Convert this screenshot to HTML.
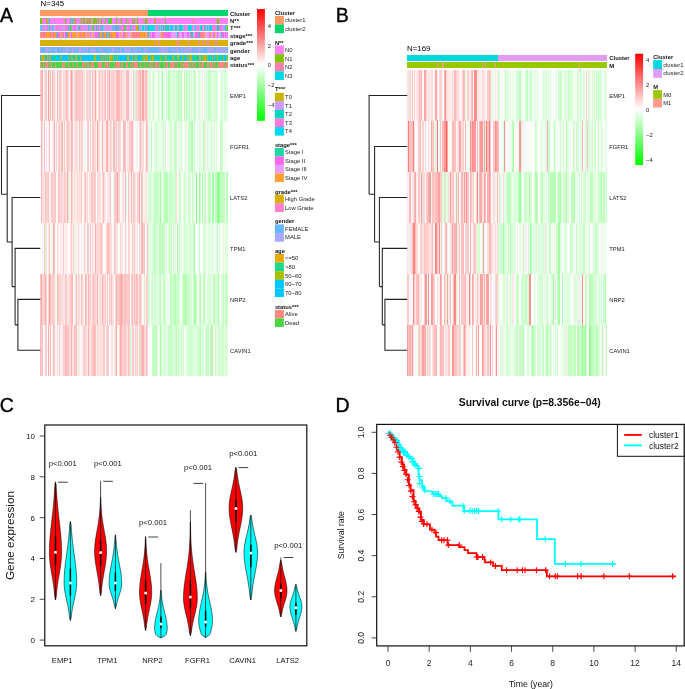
<!DOCTYPE html>
<html><head><meta charset="utf-8"><style>
html,body{margin:0;padding:0;background:#fff}
#w{position:relative;width:685px;height:689px;overflow:hidden;background:#fff}
svg{position:absolute;left:0;top:0;will-change:transform}
text{font-family:"Liberation Sans",sans-serif}
</style></head><body><div id="w">
<div style="position:absolute;left:40.3px;top:70px;width:187.7px;height:50.97px;background:linear-gradient(90deg,#ffc8c8 0 0.29%,#f8fff8 0 0.58%,#ffc0c0 0 0.87%,#ffa0a0 0 1.16%,#ffa8a8 0 1.45%,#ffe0e0 0 1.74%,#ffffff 0 2.03%,#ffd8d8 0 2.32%,#ffe0e0 0 2.61%,#ffd0d0 0 3.19%,#ffc8c8 0 3.48%,#fff8f8 0 4.06%,#ffc8c8 0 4.35%,#ffa0a0 0 4.64%,#ffb8b8 0 4.93%,#ffe0e0 0 5.22%,#fff0f0 0 5.51%,#ffc0c0 0 5.8%,#e8ffe8 0 6.09%,#d8ffd8 0 6.38%,#ffb8b8 0 6.67%,#ffe0e0 0 6.96%,#ffd8d8 0 7.83%,#ffc0c0 0 8.12%,#ffe8e8 0 8.41%,#ffb8b8 0 8.7%,#fff8f8 0 8.99%,#ffb8b8 0 9.57%,#ffe8e8 0 9.86%,#ffb8b8 0 10.14%,#ffc8c8 0 10.43%,#ffc0c0 0 10.72%,#ffd0d0 0 11.01%,#ffe0e0 0 11.3%,#ffd8d8 0 11.88%,#fff0f0 0 12.17%,#ffb8b8 0 12.46%,#ffd8d8 0 13.04%,#ffd0d0 0 13.33%,#ffd8d8 0 13.62%,#ffe0e0 0 13.91%,#ffb8b8 0 14.2%,#ffc8c8 0 15.07%,#ffd8d8 0 15.36%,#ffb0b0 0 15.65%,#ffffff 0 15.94%,#ffc8c8 0 16.52%,#ffa0a0 0 16.81%,#f0fff0 0 17.1%,#ffc0c0 0 17.39%,#ffc8c8 0 17.68%,#ffffff 0 17.97%,#fff0f0 0 18.26%,#ffd0d0 0 19.13%,#ffb8b8 0 19.42%,#fff0f0 0 19.71%,#ffd0d0 0 20%,#ffc8c8 0 20.29%,#ffc0c0 0 20.58%,#ffb0b0 0 20.87%,#ffc8c8 0 21.74%,#ffd0d0 0 22.32%,#ffc8c8 0 22.61%,#ffb0b0 0 22.9%,#ffe0e0 0 23.19%,#ffd8d8 0 23.48%,#ffe0e0 0 23.77%,#ffd8d8 0 24.06%,#f0fff0 0 24.35%,#e8ffe8 0 24.64%,#ffd0d0 0 24.93%,#fff0f0 0 25.22%,#ffd0d0 0 25.51%,#ffd8d8 0 25.8%,#ffb8b8 0 26.09%,#ffd8d8 0 26.38%,#fff0f0 0 26.67%,#ffc8c8 0 27.25%,#fff8f8 0 27.54%,#ffb8b8 0 28.12%,#ffffff 0 28.41%,#ffe8e8 0 28.7%,#ffe0e0 0 28.99%,#fff8f8 0 29.28%,#ffa0a0 0 29.57%,#ffd8d8 0 29.86%,#ffe0e0 0 30.14%,#ffe8e8 0 30.43%,#f8fff8 0 30.72%,#fff0f0 0 31.01%,#ffd8d8 0 31.3%,#ffe0e0 0 31.59%,#ffc8c8 0 32.17%,#ffd8d8 0 32.46%,#ffe0e0 0 32.75%,#ffd8d8 0 33.04%,#ffd0d0 0 33.62%,#ffe0e0 0 33.91%,#fff0f0 0 34.2%,#ffd0d0 0 34.78%,#ffb8b8 0 35.07%,#ffd0d0 0 35.36%,#fff8f8 0 35.65%,#ffc8c8 0 35.94%,#ffd8d8 0 36.52%,#ffd0d0 0 36.81%,#ffa8a8 0 37.1%,#ffe8e8 0 37.39%,#ffe0e0 0 37.68%,#ffc0c0 0 37.97%,#ffd0d0 0 38.26%,#ffe8e8 0 38.55%,#ffd0d0 0 38.84%,#ffc8c8 0 39.13%,#ffd0d0 0 39.42%,#ffd8d8 0 39.71%,#fff0f0 0 40%,#ffe0e0 0 40.29%,#ffe8e8 0 40.58%,#ffb8b8 0 40.87%,#ffc0c0 0 41.16%,#ffb8b8 0 41.74%,#ffb0b0 0 42.03%,#ffc0c0 0 42.61%,#ffd8d8 0 42.9%,#ffa8a8 0 43.19%,#ffc8c8 0 43.48%,#ffd0d0 0 43.77%,#ffe0e0 0 44.06%,#fff0f0 0 44.35%,#ffe0e0 0 44.64%,#ffe8e8 0 45.22%,#ffe0e0 0 45.51%,#ffc8c8 0 46.09%,#ffd8d8 0 46.38%,#ffb8b8 0 46.67%,#fff0f0 0 46.96%,#ffc0c0 0 47.25%,#ffb0b0 0 47.54%,#ffe8e8 0 47.83%,#ffc0c0 0 48.12%,#fff0f0 0 48.41%,#ffe8e8 0 48.7%,#fff0f0 0 48.99%,#ffffff 0 49.28%,#f8fff8 0 49.57%,#ffc8c8 0 49.86%,#ffd8d8 0 50.14%,#ffe8e8 0 50.43%,#ffe0e0 0 50.72%,#d0ffd0 0 51.01%,#ffd0d0 0 51.59%,#ffd8d8 0 51.88%,#fff0f0 0 52.17%,#ffd0d0 0 52.46%,#ffc8c8 0 52.75%,#ffc0c0 0 53.04%,#ffd8d8 0 53.33%,#ffb0b0 0 53.62%,#fff0f0 0 53.91%,#ffe0e0 0 54.2%,#ffa0a0 0 54.78%,#ffa8a8 0 55.07%,#fff8f8 0 55.36%,#ffd8d8 0 55.65%,#ffb8b8 0 55.94%,#ffc0c0 0 56.81%,#fff0f0 0 57.1%,#ffd8d8 0 57.39%,#ffffff 0 57.68%,#e8ffe8 0 57.97%,#d0ffd0 0 58.26%,#c8ffc8 0 58.55%,#e0ffe0 0 58.84%,#d8ffd8 0 59.13%,#f8fff8 0 59.42%,#f0fff0 0 59.71%,#e8ffe8 0 60.29%,#c8ffc8 0 60.58%,#b8ffb8 0 60.87%,#f0fff0 0 61.16%,#e8ffe8 0 61.45%,#ffffff 0 61.74%,#fff8f8 0 62.32%,#f8fff8 0 62.61%,#c0ffc0 0 62.9%,#c8ffc8 0 63.19%,#fff0f0 0 63.48%,#e0ffe0 0 64.06%,#f0fff0 0 64.35%,#d0ffd0 0 64.64%,#b8ffb8 0 64.93%,#b0ffb0 0 65.22%,#b8ffb8 0 65.51%,#f8fff8 0 65.8%,#f0fff0 0 66.09%,#e0ffe0 0 66.38%,#e8ffe8 0 66.67%,#f0fff0 0 66.96%,#fff8f8 0 67.25%,#d0ffd0 0 67.54%,#e0ffe0 0 67.83%,#f0fff0 0 68.12%,#b8ffb8 0 68.41%,#c0ffc0 0 68.99%,#c8ffc8 0 69.28%,#d8ffd8 0 69.57%,#e0ffe0 0 69.86%,#d8ffd8 0 70.14%,#f0fff0 0 70.43%,#e8ffe8 0 70.72%,#d0ffd0 0 71.01%,#c8ffc8 0 71.3%,#d8ffd8 0 71.59%,#e0ffe0 0 72.17%,#d0ffd0 0 72.46%,#c8ffc8 0 72.75%,#ffffff 0 73.04%,#d8ffd8 0 73.33%,#e0ffe0 0 73.62%,#b8ffb8 0 73.91%,#c0ffc0 0 74.2%,#c8ffc8 0 74.49%,#d0ffd0 0 75.07%,#b0ffb0 0 75.36%,#f0fff0 0 75.94%,#f8fff8 0 76.23%,#fff8f8 0 76.52%,#d8ffd8 0 76.81%,#b0ffb0 0 77.1%,#f8fff8 0 77.39%,#f0fff0 0 77.68%,#c8ffc8 0 77.97%,#e0ffe0 0 78.26%,#c0ffc0 0 78.55%,#c8ffc8 0 78.84%,#e0ffe0 0 79.13%,#e8ffe8 0 79.42%,#c0ffc0 0 79.71%,#d0ffd0 0 80%,#e0ffe0 0 80.29%,#d8ffd8 0 80.87%,#f0fff0 0 81.16%,#e0ffe0 0 81.45%,#d0ffd0 0 81.74%,#b0ffb0 0 82.03%,#c0ffc0 0 82.32%,#b8ffb8 0 82.61%,#c8ffc8 0 82.9%,#c0ffc0 0 83.19%,#ffffff 0 83.48%,#c0ffc0 0 83.77%,#e8ffe8 0 84.06%,#d8ffd8 0 84.35%,#d0ffd0 0 84.64%,#e0ffe0 0 84.93%,#e8ffe8 0 85.51%,#f8fff8 0 85.8%,#e8ffe8 0 86.09%,#c0ffc0 0 86.38%,#ffe8e8 0 86.67%,#fff0f0 0 86.96%,#fff8f8 0 87.25%,#e0ffe0 0 87.54%,#d8ffd8 0 87.83%,#e8ffe8 0 88.12%,#f0fff0 0 88.41%,#c8ffc8 0 88.7%,#e0ffe0 0 89.28%,#e8ffe8 0 89.57%,#c8ffc8 0 89.86%,#f0fff0 0 90.14%,#b8ffb8 0 90.43%,#c8ffc8 0 90.72%,#b8ffb8 0 91.01%,#d8ffd8 0 91.3%,#e8ffe8 0 91.59%,#e0ffe0 0 92.46%,#f0fff0 0 92.75%,#d0ffd0 0 93.04%,#d8ffd8 0 94.78%,#f8fff8 0 95.36%,#ffffff 0 95.65%,#f8fff8 0 96.23%,#e0ffe0 0 96.52%,#c8ffc8 0 96.81%,#e0ffe0 0 97.1%,#b0ffb0 0 97.39%,#e8ffe8 0 97.68%,#f0fff0 0 97.97%,#e0ffe0 0 98.26%,#fff8f8 0 98.55%,#c8ffc8 0 98.84%,#f8fff8 0 99.13%,#e8ffe8 0 99.71%,#e0ffe0 0 100%)"></div>
<div style="position:absolute;left:40.3px;top:120.97px;width:187.7px;height:50.97px;background:linear-gradient(90deg,#f8fff8 0 0.29%,#ffe0e0 0 0.58%,#ffb8b8 0 0.87%,#ffe8e8 0 1.16%,#ffe0e0 0 1.45%,#ffd8d8 0 1.74%,#fff0f0 0 2.03%,#ffd0d0 0 2.32%,#ffc8c8 0 2.61%,#ffb0b0 0 2.9%,#fff8f8 0 3.19%,#ffe8e8 0 3.48%,#ffc8c8 0 3.77%,#fff8f8 0 4.06%,#fff0f0 0 4.64%,#ffffff 0 4.93%,#ffc0c0 0 5.22%,#ffc8c8 0 5.51%,#ffffff 0 5.8%,#fff8f8 0 6.09%,#ffffff 0 6.38%,#fff8f8 0 6.96%,#ffe0e0 0 7.25%,#ffc8c8 0 7.54%,#ffb0b0 0 7.83%,#f8fff8 0 8.12%,#fff0f0 0 8.41%,#ffd0d0 0 8.99%,#f0fff0 0 9.57%,#ffc8c8 0 9.86%,#ffd0d0 0 10.43%,#fff0f0 0 10.72%,#ffe0e0 0 11.01%,#ffc8c8 0 11.3%,#ffc0c0 0 11.59%,#ffc8c8 0 11.88%,#ffb0b0 0 12.17%,#ffe8e8 0 12.46%,#e8ffe8 0 12.75%,#ffc8c8 0 13.04%,#fff8f8 0 13.33%,#fff0f0 0 13.62%,#ffd0d0 0 13.91%,#ffe0e0 0 14.2%,#ffe8e8 0 14.49%,#ffc0c0 0 14.78%,#fff0f0 0 15.07%,#ffd0d0 0 15.36%,#f8fff8 0 15.65%,#ffd8d8 0 15.94%,#ffe0e0 0 16.23%,#f8fff8 0 16.52%,#ffb8b8 0 17.1%,#ffc0c0 0 17.39%,#ffe8e8 0 17.68%,#fff0f0 0 17.97%,#ffe0e0 0 18.26%,#ffe8e8 0 18.55%,#ffe0e0 0 19.13%,#ffd8d8 0 19.42%,#fff8f8 0 19.71%,#ffe0e0 0 20%,#ffe8e8 0 20.29%,#f0fff0 0 20.58%,#ffe8e8 0 20.87%,#ffc0c0 0 21.45%,#ffe0e0 0 22.03%,#ffd0d0 0 22.9%,#ffffff 0 23.19%,#ffc0c0 0 23.48%,#fff0f0 0 23.77%,#fff8f8 0 24.35%,#ffe8e8 0 24.64%,#fff8f8 0 24.93%,#fff0f0 0 25.22%,#ffd0d0 0 25.51%,#ffc8c8 0 25.8%,#ffffff 0 26.38%,#ffb8b8 0 26.67%,#ffd0d0 0 26.96%,#fff0f0 0 27.25%,#f0fff0 0 27.54%,#e8ffe8 0 27.83%,#ffd0d0 0 28.12%,#ffc8c8 0 28.7%,#ffd8d8 0 28.99%,#ffc8c8 0 29.28%,#ffd8d8 0 29.57%,#f0fff0 0 29.86%,#e8ffe8 0 30.14%,#e0ffe0 0 30.43%,#ffa0a0 0 30.72%,#ffe8e8 0 31.01%,#ffd8d8 0 31.3%,#ffb8b8 0 31.59%,#ffd8d8 0 31.88%,#ffd0d0 0 32.17%,#ffffff 0 32.46%,#fff0f0 0 32.75%,#fff8f8 0 33.04%,#ffb8b8 0 33.33%,#ffc0c0 0 33.62%,#ffe8e8 0 33.91%,#fff0f0 0 34.2%,#ffe8e8 0 34.49%,#fff8f8 0 34.78%,#fff0f0 0 35.07%,#ffd8d8 0 35.36%,#ffb8b8 0 35.65%,#ffa8a8 0 35.94%,#ffe0e0 0 36.23%,#ffe8e8 0 36.52%,#ffb0b0 0 36.81%,#ffe0e0 0 37.1%,#ffd8d8 0 37.39%,#ffd0d0 0 37.97%,#ffd8d8 0 38.26%,#ffffff 0 38.55%,#e8ffe8 0 38.84%,#ffc0c0 0 39.42%,#ffb8b8 0 39.71%,#ffd0d0 0 40%,#ffe0e0 0 40.29%,#fff8f8 0 40.58%,#ffc8c8 0 41.16%,#ffe8e8 0 41.45%,#ffe0e0 0 41.74%,#ffd0d0 0 42.61%,#ffd8d8 0 42.9%,#ffc0c0 0 43.19%,#ffffff 0 43.48%,#fff8f8 0 43.77%,#fff0f0 0 44.06%,#ffe0e0 0 44.35%,#ffc0c0 0 44.93%,#ffb8b8 0 45.22%,#ffc0c0 0 45.51%,#ffffff 0 46.09%,#ffd0d0 0 46.38%,#ffe0e0 0 46.67%,#ffc8c8 0 46.96%,#ffe8e8 0 47.54%,#ffc8c8 0 48.12%,#ffd0d0 0 48.41%,#ffb8b8 0 48.7%,#ffc8c8 0 48.99%,#ffb8b8 0 49.28%,#ffd0d0 0 49.57%,#ffe8e8 0 49.86%,#fff8f8 0 50.72%,#f8fff8 0 51.01%,#ffd8d8 0 51.3%,#fff0f0 0 51.59%,#fff8f8 0 51.88%,#fff0f0 0 52.17%,#ffffff 0 52.46%,#ffc0c0 0 52.75%,#ffe0e0 0 53.33%,#ffb8b8 0 53.62%,#ffd0d0 0 53.91%,#ffe0e0 0 54.78%,#ffd8d8 0 55.07%,#d8ffd8 0 55.36%,#ffffff 0 55.94%,#ffe8e8 0 56.52%,#ffc0c0 0 56.81%,#ffb8b8 0 57.1%,#ffc8c8 0 57.39%,#e0ffe0 0 57.97%,#f0fff0 0 58.26%,#fff8f8 0 58.55%,#f8fff8 0 59.13%,#c0ffc0 0 59.42%,#f0fff0 0 60%,#e0ffe0 0 60.29%,#f8fff8 0 60.58%,#e0ffe0 0 61.45%,#f0fff0 0 61.74%,#c8ffc8 0 62.03%,#e8ffe8 0 62.32%,#f0fff0 0 62.61%,#d0ffd0 0 62.9%,#e0ffe0 0 63.19%,#ffffff 0 63.48%,#e8ffe8 0 63.77%,#d8ffd8 0 64.06%,#e8ffe8 0 64.64%,#e0ffe0 0 65.22%,#d0ffd0 0 65.51%,#c8ffc8 0 65.8%,#ff9090 0 66.09%,#f8fff8 0 66.67%,#c8ffc8 0 66.96%,#d8ffd8 0 67.25%,#f8fff8 0 67.54%,#fff8f8 0 67.83%,#fff0f0 0 68.12%,#e8ffe8 0 68.41%,#d8ffd8 0 68.7%,#f0fff0 0 68.99%,#c8ffc8 0 69.28%,#d8ffd8 0 69.86%,#c8ffc8 0 70.14%,#ffa8a8 0 70.43%,#fff8f8 0 70.72%,#d8ffd8 0 71.59%,#f8fff8 0 71.88%,#c0ffc0 0 72.17%,#d0ffd0 0 72.75%,#ffc0c0 0 73.04%,#f8fff8 0 73.33%,#e0ffe0 0 73.62%,#e8ffe8 0 73.91%,#e0ffe0 0 74.2%,#d8ffd8 0 74.49%,#f0fff0 0 74.78%,#c8ffc8 0 75.07%,#d0ffd0 0 75.36%,#c8ffc8 0 75.65%,#f8fff8 0 75.94%,#ffffff 0 76.23%,#f8fff8 0 76.52%,#ffffff 0 76.81%,#f0fff0 0 77.39%,#e0ffe0 0 77.68%,#fff0f0 0 77.97%,#e8ffe8 0 78.26%,#f0fff0 0 78.84%,#d0ffd0 0 79.13%,#c8ffc8 0 79.42%,#c0ffc0 0 79.71%,#c8ffc8 0 80%,#e0ffe0 0 80.29%,#e8ffe8 0 80.58%,#b0ffb0 0 80.87%,#a8ffa8 0 81.16%,#f8fff8 0 81.45%,#f0fff0 0 82.03%,#c8ffc8 0 82.61%,#f8fff8 0 82.9%,#f0fff0 0 83.19%,#f8fff8 0 83.48%,#ffffff 0 83.77%,#f0fff0 0 84.06%,#fff8f8 0 84.35%,#e8ffe8 0 84.64%,#d8ffd8 0 84.93%,#e0ffe0 0 85.51%,#f8fff8 0 86.38%,#f0fff0 0 86.67%,#f8fff8 0 86.96%,#b0ffb0 0 87.25%,#d8ffd8 0 87.54%,#f0fff0 0 87.83%,#ffe8e8 0 88.12%,#e8ffe8 0 88.41%,#f8fff8 0 88.7%,#f0fff0 0 88.99%,#e0ffe0 0 89.28%,#e8ffe8 0 90.43%,#f0fff0 0 90.72%,#f8fff8 0 91.01%,#c8ffc8 0 91.3%,#e8ffe8 0 91.88%,#e0ffe0 0 92.17%,#f8fff8 0 92.46%,#fff8f8 0 92.75%,#d0ffd0 0 93.04%,#f0fff0 0 93.33%,#f8fff8 0 93.62%,#d8ffd8 0 93.91%,#ffffff 0 94.78%,#fff8f8 0 95.07%,#d0ffd0 0 95.36%,#f8fff8 0 95.65%,#c0ffc0 0 95.94%,#c8ffc8 0 96.23%,#d0ffd0 0 96.52%,#c8ffc8 0 97.1%,#f0fff0 0 97.39%,#f8fff8 0 97.68%,#e8ffe8 0 97.97%,#fff8f8 0 98.26%,#f8fff8 0 98.84%,#e8ffe8 0 99.13%,#f0fff0 0 99.42%,#e8ffe8 0 99.71%,#f8fff8 0 100%)"></div>
<div style="position:absolute;left:40.3px;top:171.94px;width:187.7px;height:50.97px;background:linear-gradient(90deg,#ffffff 0 0.29%,#ffe0e0 0 0.58%,#ffb8b8 0 0.87%,#ffa8a8 0 1.16%,#ffe0e0 0 1.74%,#ffd8d8 0 2.03%,#ffd0d0 0 2.32%,#ffe8e8 0 2.61%,#d0ffd0 0 2.9%,#ffc0c0 0 3.19%,#ffd0d0 0 4.06%,#ffc8c8 0 4.64%,#ffd8d8 0 4.93%,#fff0f0 0 5.22%,#ffe0e0 0 5.51%,#fff0f0 0 5.8%,#fff8f8 0 6.09%,#ffc8c8 0 6.67%,#ffc0c0 0 6.96%,#ffd8d8 0 7.25%,#f0fff0 0 7.54%,#ffc8c8 0 8.41%,#fff8f8 0 8.99%,#ffffff 0 9.28%,#fff8f8 0 9.57%,#ffc0c0 0 10.14%,#ffc8c8 0 10.43%,#ffe0e0 0 11.01%,#ffc0c0 0 11.3%,#ffc8c8 0 11.59%,#ffd8d8 0 11.88%,#ffe0e0 0 12.17%,#ffa8a8 0 12.46%,#ffe0e0 0 12.75%,#ffc0c0 0 13.04%,#f8fff8 0 13.33%,#ffd8d8 0 13.62%,#ffd0d0 0 13.91%,#ffe0e0 0 14.2%,#ffc8c8 0 14.49%,#ffa8a8 0 14.78%,#ffc8c8 0 15.07%,#ffe0e0 0 15.36%,#ffe8e8 0 15.65%,#e0ffe0 0 15.94%,#e8ffe8 0 16.23%,#fff0f0 0 16.52%,#ffb0b0 0 16.81%,#ffd0d0 0 17.39%,#ffc0c0 0 17.68%,#fff8f8 0 17.97%,#ffc8c8 0 18.26%,#ffd8d8 0 18.55%,#ffe0e0 0 18.84%,#fff0f0 0 19.13%,#ffe8e8 0 19.71%,#ffd8d8 0 20%,#ffd0d0 0 20.29%,#ffe8e8 0 20.87%,#ffe0e0 0 21.16%,#fff0f0 0 21.45%,#ffe8e8 0 21.74%,#ffc0c0 0 22.32%,#fff8f8 0 22.61%,#ffc8c8 0 22.9%,#fff8f8 0 23.19%,#ffd8d8 0 23.77%,#ffd0d0 0 24.06%,#ffb8b8 0 24.35%,#fff0f0 0 24.64%,#ffe8e8 0 24.93%,#ffe0e0 0 25.22%,#ffd8d8 0 25.51%,#fff8f8 0 25.8%,#ffc8c8 0 26.09%,#ffe0e0 0 26.38%,#ffe8e8 0 26.67%,#fff0f0 0 26.96%,#ffc0c0 0 27.25%,#ffb8b8 0 27.54%,#ffd0d0 0 27.83%,#ffc8c8 0 28.12%,#ffe0e0 0 28.41%,#ffd8d8 0 28.7%,#ffc0c0 0 28.99%,#ffc8c8 0 29.28%,#ffd0d0 0 29.57%,#ffe8e8 0 29.86%,#fff8f8 0 30.14%,#ffffff 0 30.43%,#ffd8d8 0 30.72%,#ffa0a0 0 31.01%,#ffe0e0 0 31.3%,#ffd0d0 0 31.59%,#ffe0e0 0 31.88%,#d8ffd8 0 32.17%,#ffe0e0 0 32.46%,#f8fff8 0 32.75%,#ffd8d8 0 33.33%,#fff0f0 0 33.62%,#ffb8b8 0 33.91%,#fff8f8 0 34.2%,#ffe0e0 0 34.49%,#ffd8d8 0 34.78%,#ffe8e8 0 35.07%,#fff0f0 0 35.36%,#f8fff8 0 35.65%,#ffe8e8 0 35.94%,#fff0f0 0 36.23%,#ffe8e8 0 36.52%,#ffd0d0 0 36.81%,#ffe0e0 0 37.1%,#ffd0d0 0 37.68%,#fff8f8 0 38.26%,#ffe0e0 0 38.55%,#f8fff8 0 38.84%,#f0fff0 0 39.13%,#f8fff8 0 39.42%,#ffd0d0 0 39.71%,#ffe0e0 0 40%,#ffc8c8 0 40.29%,#ffb8b8 0 40.58%,#ffc8c8 0 40.87%,#ffd0d0 0 41.16%,#ffa0a0 0 41.45%,#ffe0e0 0 41.74%,#ffd8d8 0 42.03%,#ffd0d0 0 42.32%,#ffc0c0 0 42.61%,#f8fff8 0 42.9%,#fff0f0 0 43.48%,#ffe8e8 0 43.77%,#fff0f0 0 44.06%,#e8ffe8 0 44.35%,#ffd8d8 0 44.64%,#f8fff8 0 44.93%,#fff8f8 0 45.22%,#ffb8b8 0 45.51%,#ffffff 0 45.8%,#e8ffe8 0 46.09%,#ffc0c0 0 46.38%,#ffffff 0 46.67%,#ffe8e8 0 46.96%,#ffc0c0 0 47.54%,#ffe8e8 0 47.83%,#ffd8d8 0 48.12%,#fff0f0 0 48.41%,#ffb8b8 0 48.7%,#ffe0e0 0 48.99%,#fff0f0 0 49.28%,#ffb8b8 0 49.57%,#ffc8c8 0 49.86%,#ffc0c0 0 50.14%,#ffd8d8 0 50.43%,#ffc8c8 0 50.72%,#ffe0e0 0 51.01%,#ffa8a8 0 51.3%,#fff0f0 0 51.59%,#ffd0d0 0 51.88%,#ffc8c8 0 52.17%,#ffe0e0 0 52.46%,#ffc0c0 0 52.75%,#ffa0a0 0 53.04%,#ffe8e8 0 53.33%,#fff8f8 0 53.62%,#ffc0c0 0 54.78%,#f0fff0 0 55.36%,#ffe8e8 0 55.65%,#e8ffe8 0 55.94%,#ffe8e8 0 56.23%,#ffc0c0 0 56.52%,#ffe0e0 0 56.81%,#fff0f0 0 57.1%,#f0fff0 0 57.39%,#c8ffc8 0 57.97%,#e0ffe0 0 58.26%,#c8ffc8 0 58.55%,#d0ffd0 0 58.84%,#b8ffb8 0 59.13%,#e0ffe0 0 59.42%,#ffffff 0 59.71%,#f8fff8 0 60%,#d8ffd8 0 60.29%,#c8ffc8 0 61.16%,#c0ffc0 0 61.45%,#d8ffd8 0 61.74%,#d0ffd0 0 62.03%,#c8ffc8 0 62.61%,#e0ffe0 0 62.9%,#c0ffc0 0 63.19%,#d8ffd8 0 63.77%,#b0ffb0 0 64.06%,#a8ffa8 0 64.35%,#e0ffe0 0 64.64%,#f0fff0 0 64.93%,#f8fff8 0 65.22%,#d0ffd0 0 65.51%,#c8ffc8 0 65.8%,#e0ffe0 0 66.09%,#c0ffc0 0 66.38%,#d0ffd0 0 66.67%,#b8ffb8 0 66.96%,#b0ffb0 0 67.54%,#b8ffb8 0 67.83%,#e0ffe0 0 68.41%,#c0ffc0 0 68.7%,#b8ffb8 0 68.99%,#d0ffd0 0 69.57%,#e8ffe8 0 69.86%,#d0ffd0 0 70.14%,#b0ffb0 0 70.43%,#d0ffd0 0 70.72%,#f0fff0 0 71.01%,#d8ffd8 0 71.59%,#c0ffc0 0 71.88%,#c8ffc8 0 72.17%,#d0ffd0 0 72.46%,#ffd8d8 0 72.75%,#f0fff0 0 73.04%,#f8fff8 0 73.91%,#ffffff 0 74.2%,#c8ffc8 0 75.07%,#f8fff8 0 75.36%,#fff8f8 0 75.94%,#e8ffe8 0 76.23%,#e0ffe0 0 76.52%,#ffffff 0 76.81%,#c8ffc8 0 77.1%,#b0ffb0 0 77.39%,#e8ffe8 0 77.68%,#d8ffd8 0 77.97%,#d0ffd0 0 78.26%,#f8fff8 0 78.84%,#d0ffd0 0 80%,#d8ffd8 0 80.29%,#e0ffe0 0 80.58%,#f8fff8 0 80.87%,#c8ffc8 0 81.45%,#d8ffd8 0 81.74%,#e8ffe8 0 82.03%,#e0ffe0 0 82.32%,#c0ffc0 0 82.61%,#ffffff 0 82.9%,#d0ffd0 0 83.19%,#88ff88 0 83.48%,#f8fff8 0 84.35%,#fff8f8 0 84.64%,#a0ffa0 0 84.93%,#f8fff8 0 85.22%,#c8ffc8 0 85.8%,#f8fff8 0 86.09%,#b0ffb0 0 86.96%,#f8fff8 0 87.25%,#d0ffd0 0 87.54%,#ffffff 0 87.83%,#c0ffc0 0 88.12%,#90ff90 0 88.41%,#fff8f8 0 88.7%,#ffffff 0 88.99%,#e8ffe8 0 89.28%,#b0ffb0 0 89.57%,#c8ffc8 0 90.14%,#b8ffb8 0 90.43%,#c0ffc0 0 90.72%,#f8fff8 0 91.01%,#f0fff0 0 91.3%,#ffffff 0 91.59%,#b0ffb0 0 91.88%,#a0ffa0 0 92.46%,#c0ffc0 0 92.75%,#f8fff8 0 93.04%,#c8ffc8 0 93.33%,#c0ffc0 0 93.91%,#f8fff8 0 94.2%,#90ff90 0 94.49%,#98ff98 0 94.78%,#80ff80 0 95.07%,#b8ffb8 0 95.36%,#b0ffb0 0 95.94%,#b8ffb8 0 96.23%,#a8ffa8 0 96.52%,#c0ffc0 0 96.81%,#b8ffb8 0 97.1%,#e8ffe8 0 97.39%,#c8ffc8 0 97.68%,#e8ffe8 0 97.97%,#c0ffc0 0 98.26%,#f0fff0 0 98.84%,#d0ffd0 0 99.13%,#c8ffc8 0 99.42%,#d0ffd0 0 99.71%,#b8ffb8 0 100%)"></div>
<div style="position:absolute;left:40.3px;top:222.91px;width:187.7px;height:50.97px;background:linear-gradient(90deg,#f8fff8 0 0.29%,#f0fff0 0 0.58%,#f8fff8 0 0.87%,#ffd0d0 0 1.16%,#fff0f0 0 1.45%,#ffb8b8 0 1.74%,#fff8f8 0 2.03%,#fff0f0 0 2.32%,#ffc0c0 0 2.61%,#d0ffd0 0 3.19%,#ffe0e0 0 3.48%,#fff8f8 0 4.06%,#ffe8e8 0 4.64%,#fff0f0 0 4.93%,#ffc0c0 0 5.51%,#f0fff0 0 5.8%,#e8ffe8 0 6.09%,#f0fff0 0 6.38%,#e0ffe0 0 6.67%,#ffd0d0 0 6.96%,#ffb8b8 0 7.54%,#ffb0b0 0 7.83%,#fff8f8 0 8.41%,#ffffff 0 8.99%,#e8ffe8 0 9.28%,#ffd8d8 0 9.57%,#ffe8e8 0 9.86%,#ffe0e0 0 10.14%,#fff8f8 0 10.72%,#ffe8e8 0 11.01%,#ffd8d8 0 11.3%,#fff0f0 0 12.17%,#ffc0c0 0 12.46%,#ffc8c8 0 12.75%,#ffe8e8 0 13.04%,#ffc8c8 0 13.33%,#fff0f0 0 14.2%,#fff8f8 0 14.49%,#fff0f0 0 14.78%,#ffe0e0 0 15.07%,#fff8f8 0 15.36%,#ffe0e0 0 15.65%,#f8fff8 0 15.94%,#ffe8e8 0 16.23%,#fff0f0 0 16.52%,#ffc8c8 0 17.1%,#fff0f0 0 17.39%,#ffffff 0 17.68%,#ffd0d0 0 17.97%,#fff8f8 0 18.26%,#e0ffe0 0 18.84%,#fff0f0 0 19.13%,#ffe8e8 0 19.42%,#fff8f8 0 19.71%,#ffffff 0 20%,#ffd8d8 0 20.58%,#ffd0d0 0 20.87%,#fff0f0 0 21.16%,#ffffff 0 21.45%,#fff8f8 0 22.03%,#fff0f0 0 22.32%,#e8ffe8 0 22.61%,#ffffff 0 22.9%,#fff8f8 0 23.19%,#fff0f0 0 23.48%,#ffd0d0 0 23.77%,#f8fff8 0 24.06%,#ffe8e8 0 24.64%,#f8fff8 0 24.93%,#f0fff0 0 25.22%,#ffc8c8 0 25.51%,#ffd0d0 0 25.8%,#f8fff8 0 26.09%,#f0fff0 0 26.38%,#ffc8c8 0 26.96%,#ffc0c0 0 27.25%,#f8fff8 0 27.54%,#ffe8e8 0 27.83%,#ffd0d0 0 28.12%,#f0fff0 0 28.41%,#fff0f0 0 28.99%,#ffe0e0 0 29.28%,#ffb0b0 0 29.57%,#ffc0c0 0 29.86%,#ffd8d8 0 30.72%,#ffe8e8 0 31.01%,#ffd0d0 0 31.3%,#fff0f0 0 31.59%,#ffe0e0 0 31.88%,#fff8f8 0 32.17%,#ffc8c8 0 32.46%,#ffc0c0 0 32.75%,#ffffff 0 33.04%,#ffe0e0 0 33.33%,#ffd8d8 0 33.62%,#fff8f8 0 33.91%,#f8fff8 0 34.49%,#ffd8d8 0 34.78%,#fff0f0 0 35.07%,#ffc0c0 0 35.36%,#ffe0e0 0 35.65%,#ffb8b8 0 35.94%,#ffd8d8 0 36.23%,#ffc0c0 0 36.81%,#ffc8c8 0 37.1%,#ffc0c0 0 37.39%,#ffe0e0 0 37.68%,#ffd8d8 0 38.26%,#f0fff0 0 38.55%,#fff8f8 0 39.13%,#ffc0c0 0 39.42%,#ffc8c8 0 39.71%,#ffe8e8 0 40%,#ffc8c8 0 40.29%,#ffe8e8 0 41.16%,#ffe0e0 0 41.45%,#ffe8e8 0 41.74%,#f8fff8 0 42.32%,#fff8f8 0 42.61%,#ffd0d0 0 42.9%,#ffe8e8 0 44.06%,#ffffff 0 44.35%,#fff8f8 0 45.22%,#ffd0d0 0 45.51%,#fff0f0 0 45.8%,#ffe8e8 0 46.09%,#ffffff 0 46.67%,#ffe0e0 0 46.96%,#ffd0d0 0 47.25%,#ffc0c0 0 47.54%,#ffd8d8 0 47.83%,#e8ffe8 0 48.12%,#fff8f8 0 48.41%,#f8fff8 0 48.7%,#fff8f8 0 48.99%,#ffd0d0 0 49.57%,#ffe0e0 0 50.14%,#ffd0d0 0 50.43%,#ffe8e8 0 51.01%,#fff8f8 0 51.3%,#fff0f0 0 51.59%,#ffe8e8 0 51.88%,#ffd8d8 0 52.17%,#fff8f8 0 52.46%,#f0fff0 0 52.75%,#ffe0e0 0 53.33%,#ffe8e8 0 53.62%,#ffd0d0 0 53.91%,#ffc0c0 0 54.2%,#ffb8b8 0 54.49%,#ffb0b0 0 54.78%,#ffd0d0 0 55.07%,#ffc0c0 0 55.65%,#f8fff8 0 56.52%,#fff8f8 0 57.1%,#ffc0c0 0 57.39%,#ffb8b8 0 57.68%,#d8ffd8 0 57.97%,#ffffff 0 58.26%,#d0ffd0 0 58.55%,#d8ffd8 0 59.13%,#e0ffe0 0 59.42%,#c8ffc8 0 59.71%,#d0ffd0 0 60%,#d8ffd8 0 60.58%,#c8ffc8 0 60.87%,#c0ffc0 0 61.16%,#c8ffc8 0 61.45%,#d0ffd0 0 62.61%,#c8ffc8 0 62.9%,#f8fff8 0 63.19%,#b8ffb8 0 63.77%,#c0ffc0 0 64.06%,#b8ffb8 0 64.35%,#e0ffe0 0 64.64%,#d8ffd8 0 64.93%,#b0ffb0 0 65.22%,#b8ffb8 0 65.51%,#c0ffc0 0 65.8%,#f8fff8 0 66.09%,#d0ffd0 0 66.67%,#f0fff0 0 66.96%,#e0ffe0 0 67.54%,#e8ffe8 0 67.83%,#ffffff 0 68.12%,#e8ffe8 0 68.41%,#c8ffc8 0 68.7%,#b8ffb8 0 68.99%,#c8ffc8 0 69.28%,#e0ffe0 0 69.57%,#c0ffc0 0 69.86%,#c8ffc8 0 70.14%,#d8ffd8 0 70.43%,#ffffff 0 70.72%,#e0ffe0 0 71.01%,#c8ffc8 0 71.3%,#e0ffe0 0 71.59%,#f8fff8 0 71.88%,#e0ffe0 0 72.46%,#fff8f8 0 72.75%,#ffffff 0 73.04%,#a8ffa8 0 73.33%,#b0ffb0 0 73.62%,#e0ffe0 0 73.91%,#d8ffd8 0 74.2%,#c8ffc8 0 74.49%,#f0fff0 0 75.07%,#e0ffe0 0 75.36%,#f0fff0 0 75.65%,#e8ffe8 0 75.94%,#f0fff0 0 76.81%,#c8ffc8 0 77.1%,#d0ffd0 0 77.39%,#e0ffe0 0 77.68%,#d0ffd0 0 77.97%,#fff8f8 0 78.26%,#d8ffd8 0 78.84%,#f0fff0 0 79.42%,#d0ffd0 0 79.71%,#e0ffe0 0 80%,#d0ffd0 0 80.29%,#c8ffc8 0 80.58%,#e0ffe0 0 81.45%,#c8ffc8 0 81.74%,#b8ffb8 0 82.03%,#b0ffb0 0 82.32%,#f0fff0 0 82.61%,#f8fff8 0 83.48%,#fff8f8 0 83.77%,#ffffff 0 84.35%,#fff8f8 0 84.64%,#c0ffc0 0 84.93%,#e8ffe8 0 85.22%,#f8fff8 0 85.51%,#d0ffd0 0 85.8%,#ffffff 0 86.09%,#e0ffe0 0 86.38%,#f8fff8 0 86.67%,#c0ffc0 0 86.96%,#d0ffd0 0 87.25%,#e0ffe0 0 87.54%,#c8ffc8 0 87.83%,#d0ffd0 0 88.12%,#f8fff8 0 88.41%,#fff8f8 0 88.7%,#e0ffe0 0 88.99%,#e8ffe8 0 89.28%,#d8ffd8 0 89.57%,#e0ffe0 0 89.86%,#d8ffd8 0 90.43%,#f0fff0 0 90.72%,#e0ffe0 0 91.01%,#e8ffe8 0 91.59%,#c8ffc8 0 91.88%,#d8ffd8 0 92.17%,#f8fff8 0 92.46%,#f0fff0 0 92.75%,#f8fff8 0 93.04%,#f0fff0 0 93.33%,#e8ffe8 0 93.62%,#e0ffe0 0 94.2%,#c0ffc0 0 94.49%,#d8ffd8 0 94.78%,#fff8f8 0 95.36%,#d8ffd8 0 95.65%,#d0ffd0 0 95.94%,#f0fff0 0 96.23%,#f8fff8 0 97.39%,#e0ffe0 0 97.68%,#ffffff 0 97.97%,#f0fff0 0 98.26%,#e0ffe0 0 98.55%,#d8ffd8 0 98.84%,#d0ffd0 0 99.13%,#e8ffe8 0 99.42%,#d8ffd8 0 100%)"></div>
<div style="position:absolute;left:40.3px;top:273.88px;width:187.7px;height:50.97px;background:linear-gradient(90deg,#ffc8c8 0 0.58%,#ffa0a0 0 0.87%,#ffe0e0 0 1.45%,#ffc0c0 0 1.74%,#ffd0d0 0 2.03%,#ffa8a8 0 2.32%,#ffc8c8 0 2.61%,#ffc0c0 0 2.9%,#ffb0b0 0 3.19%,#ffd0d0 0 3.48%,#ffe0e0 0 3.77%,#fff8f8 0 4.35%,#ffd8d8 0 4.64%,#ffd0d0 0 4.93%,#ff9898 0 5.22%,#ffd0d0 0 5.51%,#ffc8c8 0 5.8%,#fff8f8 0 6.09%,#ffd0d0 0 6.38%,#ffc8c8 0 6.67%,#ffe0e0 0 6.96%,#ffd0d0 0 7.25%,#ffc8c8 0 7.54%,#ffd8d8 0 7.83%,#ffb0b0 0 8.12%,#fff0f0 0 8.41%,#ffe8e8 0 8.7%,#e8ffe8 0 8.99%,#e0ffe0 0 9.28%,#ffb8b8 0 9.57%,#ffd0d0 0 9.86%,#f8fff8 0 10.14%,#ffd0d0 0 10.43%,#ffd8d8 0 11.01%,#ffd0d0 0 11.3%,#ffd8d8 0 11.59%,#ffe0e0 0 12.17%,#ffe8e8 0 12.46%,#ffe0e0 0 12.75%,#ffe8e8 0 13.04%,#f8fff8 0 13.33%,#ffc8c8 0 13.62%,#fff8f8 0 13.91%,#ffc8c8 0 14.2%,#ffc0c0 0 14.49%,#fff0f0 0 14.78%,#ffe8e8 0 15.07%,#ffe0e0 0 15.65%,#ffd8d8 0 15.94%,#ffc8c8 0 16.23%,#ffd0d0 0 16.52%,#ffc0c0 0 16.81%,#ffb8b8 0 17.1%,#ffb0b0 0 17.39%,#ffe8e8 0 17.68%,#ffffff 0 18.26%,#fff8f8 0 18.55%,#ffd8d8 0 18.84%,#ffe0e0 0 19.13%,#ffc0c0 0 19.42%,#ffe0e0 0 19.71%,#ffe8e8 0 20%,#ffe0e0 0 20.29%,#ffd0d0 0 20.87%,#ffe0e0 0 21.45%,#fff0f0 0 21.74%,#ffe8e8 0 22.03%,#ffc0c0 0 22.32%,#ffd8d8 0 22.61%,#ffe0e0 0 22.9%,#ffe8e8 0 23.19%,#ffd0d0 0 23.48%,#f8fff8 0 23.77%,#fff0f0 0 24.06%,#ffb0b0 0 24.35%,#ffe8e8 0 24.64%,#ffc8c8 0 25.22%,#ffe8e8 0 25.51%,#ffb8b8 0 25.8%,#ffd8d8 0 26.09%,#ffd0d0 0 26.38%,#ffb8b8 0 26.67%,#ffd0d0 0 26.96%,#ffd8d8 0 27.25%,#fff0f0 0 27.54%,#ffe8e8 0 27.83%,#ffd0d0 0 28.12%,#ffb8b8 0 28.41%,#ffc0c0 0 28.7%,#ffc8c8 0 29.28%,#ffd8d8 0 29.57%,#e0ffe0 0 29.86%,#ffe0e0 0 30.14%,#fff0f0 0 30.43%,#ffb0b0 0 30.72%,#ffe0e0 0 31.01%,#ffe8e8 0 31.3%,#ffc0c0 0 31.59%,#ffe8e8 0 31.88%,#ffa8a8 0 32.17%,#ffd8d8 0 32.46%,#ffe0e0 0 33.04%,#ffb8b8 0 33.33%,#fff0f0 0 33.62%,#ffd0d0 0 34.2%,#ffd8d8 0 34.49%,#ffb8b8 0 34.78%,#ffc8c8 0 35.07%,#f8fff8 0 35.36%,#f0fff0 0 35.65%,#ffc0c0 0 35.94%,#ffffff 0 36.52%,#fff8f8 0 36.81%,#ffc8c8 0 37.39%,#ffd8d8 0 37.68%,#ffc0c0 0 38.26%,#ffd8d8 0 38.55%,#ffe0e0 0 38.84%,#ffe8e8 0 39.13%,#fff8f8 0 39.42%,#ffffff 0 39.71%,#ffc0c0 0 40%,#ffd8d8 0 40.29%,#ffa8a8 0 40.58%,#ffb0b0 0 40.87%,#ffd0d0 0 41.74%,#ffc0c0 0 42.61%,#ffb8b8 0 42.9%,#ffb0b0 0 43.19%,#ffa0a0 0 43.48%,#ffb8b8 0 44.35%,#ffd0d0 0 44.93%,#ffc8c8 0 45.22%,#ffb8b8 0 45.51%,#e8ffe8 0 45.8%,#ffd0d0 0 46.09%,#ffc8c8 0 46.67%,#ffe0e0 0 46.96%,#ffc8c8 0 47.25%,#ffe0e0 0 47.54%,#ffc8c8 0 47.83%,#ffd0d0 0 48.12%,#f8fff8 0 48.41%,#ffd0d0 0 48.7%,#ffd8d8 0 48.99%,#ffb8b8 0 49.28%,#ffb0b0 0 49.57%,#ffe0e0 0 50.14%,#ffc0c0 0 50.43%,#ffe0e0 0 50.72%,#ffd0d0 0 51.01%,#ffe8e8 0 51.3%,#ffb8b8 0 51.59%,#ffc0c0 0 51.88%,#ffc8c8 0 52.17%,#fff0f0 0 52.46%,#ffe0e0 0 52.75%,#ffc0c0 0 53.04%,#ffd8d8 0 53.33%,#ffc8c8 0 53.91%,#ffd8d8 0 54.2%,#ffd0d0 0 54.49%,#ffffff 0 54.78%,#f0fff0 0 55.07%,#f8fff8 0 55.36%,#ffd8d8 0 55.65%,#ffc0c0 0 55.94%,#e8ffe8 0 56.23%,#fff8f8 0 56.52%,#ffc8c8 0 56.81%,#ffc0c0 0 57.1%,#ffd8d8 0 57.39%,#b8ffb8 0 57.68%,#c0ffc0 0 57.97%,#e0ffe0 0 58.26%,#f0fff0 0 58.55%,#ffffff 0 58.84%,#d8ffd8 0 59.71%,#c8ffc8 0 60%,#b0ffb0 0 60.29%,#f8fff8 0 60.58%,#c0ffc0 0 60.87%,#d0ffd0 0 61.16%,#c8ffc8 0 61.45%,#c0ffc0 0 61.74%,#e8ffe8 0 62.03%,#a8ffa8 0 62.32%,#e0ffe0 0 62.61%,#d0ffd0 0 62.9%,#e0ffe0 0 63.19%,#d0ffd0 0 63.48%,#c8ffc8 0 63.77%,#b8ffb8 0 64.35%,#f8fff8 0 64.64%,#c0ffc0 0 64.93%,#e0ffe0 0 65.22%,#f0fff0 0 65.51%,#d0ffd0 0 65.8%,#b8ffb8 0 66.09%,#c0ffc0 0 66.38%,#f8fff8 0 66.67%,#e0ffe0 0 67.25%,#e8ffe8 0 67.83%,#d0ffd0 0 68.12%,#f0fff0 0 68.41%,#f8fff8 0 68.99%,#c8ffc8 0 69.28%,#c0ffc0 0 69.86%,#b8ffb8 0 70.14%,#d0ffd0 0 70.43%,#e0ffe0 0 70.72%,#c8ffc8 0 71.01%,#c0ffc0 0 71.88%,#b8ffb8 0 72.17%,#c8ffc8 0 72.46%,#d0ffd0 0 73.04%,#c8ffc8 0 73.33%,#d0ffd0 0 73.91%,#ffffff 0 74.2%,#d0ffd0 0 74.49%,#f0fff0 0 74.78%,#e8ffe8 0 75.07%,#fff8f8 0 75.36%,#b8ffb8 0 75.65%,#d0ffd0 0 75.94%,#f8fff8 0 76.23%,#b8ffb8 0 76.52%,#c0ffc0 0 77.39%,#a8ffa8 0 77.68%,#b0ffb0 0 77.97%,#d8ffd8 0 78.26%,#e0ffe0 0 78.55%,#c0ffc0 0 79.13%,#d0ffd0 0 80%,#d8ffd8 0 80.29%,#d0ffd0 0 80.58%,#d8ffd8 0 80.87%,#f8fff8 0 81.16%,#b8ffb8 0 81.74%,#b0ffb0 0 82.03%,#b8ffb8 0 82.61%,#b0ffb0 0 82.9%,#e0ffe0 0 83.19%,#c8ffc8 0 83.48%,#f8fff8 0 83.77%,#f0fff0 0 84.06%,#f8fff8 0 84.35%,#e0ffe0 0 84.64%,#c8ffc8 0 84.93%,#d0ffd0 0 85.22%,#b8ffb8 0 85.51%,#c0ffc0 0 85.8%,#e8ffe8 0 86.38%,#f8fff8 0 86.67%,#e0ffe0 0 86.96%,#c0ffc0 0 87.25%,#c8ffc8 0 87.54%,#d8ffd8 0 88.12%,#e0ffe0 0 88.41%,#f8fff8 0 88.7%,#d8ffd8 0 88.99%,#e0ffe0 0 89.28%,#c0ffc0 0 89.57%,#d0ffd0 0 89.86%,#d8ffd8 0 90.14%,#e0ffe0 0 90.43%,#d0ffd0 0 91.01%,#e0ffe0 0 91.3%,#d0ffd0 0 91.59%,#f0fff0 0 91.88%,#c8ffc8 0 92.46%,#f0fff0 0 92.75%,#b0ffb0 0 93.04%,#a8ffa8 0 93.33%,#e0ffe0 0 93.62%,#d0ffd0 0 93.91%,#d8ffd8 0 94.49%,#b0ffb0 0 95.36%,#e0ffe0 0 95.65%,#e8ffe8 0 95.94%,#ffffff 0 96.23%,#b0ffb0 0 96.52%,#d8ffd8 0 97.1%,#b8ffb8 0 97.39%,#c0ffc0 0 97.68%,#ffffff 0 97.97%,#e0ffe0 0 98.26%,#c8ffc8 0 98.84%,#f8fff8 0 99.13%,#c0ffc0 0 99.42%,#d8ffd8 0 99.71%,#c8ffc8 0 100%)"></div>
<div style="position:absolute;left:40.3px;top:324.85px;width:187.7px;height:50.97px;background:linear-gradient(90deg,#ffb8b8 0 0.58%,#ffd0d0 0 0.87%,#ffc8c8 0 1.16%,#ffc0c0 0 1.45%,#ffd8d8 0 1.74%,#ffffff 0 2.03%,#ffe8e8 0 2.32%,#fff0f0 0 2.61%,#ffe8e8 0 2.9%,#ffd8d8 0 3.19%,#ffc8c8 0 3.48%,#ffd8d8 0 3.77%,#fff8f8 0 4.06%,#ffc8c8 0 4.35%,#ffa8a8 0 4.64%,#ffd8d8 0 4.93%,#fff0f0 0 5.22%,#ffffff 0 5.51%,#ffc0c0 0 5.8%,#fff0f0 0 6.09%,#e8ffe8 0 6.38%,#f8fff8 0 6.67%,#f0fff0 0 6.96%,#ffc0c0 0 7.54%,#ffc8c8 0 7.83%,#ffc0c0 0 8.12%,#fff0f0 0 8.41%,#fff8f8 0 8.7%,#fff0f0 0 8.99%,#ffd0d0 0 9.28%,#ffe0e0 0 9.57%,#f8fff8 0 9.86%,#f0fff0 0 10.14%,#ffc8c8 0 10.43%,#ffb8b8 0 10.72%,#fff0f0 0 11.01%,#ffd0d0 0 11.3%,#fff8f8 0 11.88%,#ffe0e0 0 12.17%,#ffd0d0 0 13.04%,#ffc0c0 0 13.33%,#ffb0b0 0 13.62%,#f0fff0 0 13.91%,#ffc8c8 0 14.2%,#ffd0d0 0 14.49%,#ffc0c0 0 15.07%,#ffc8c8 0 15.65%,#ffd8d8 0 15.94%,#ffe0e0 0 16.23%,#ffd8d8 0 16.52%,#ffb0b0 0 16.81%,#fff0f0 0 17.1%,#ffe0e0 0 17.39%,#ffd8d8 0 17.68%,#ffe0e0 0 17.97%,#ffd0d0 0 18.26%,#ffc0c0 0 18.55%,#ffc8c8 0 19.13%,#ffc0c0 0 19.42%,#ffffff 0 19.71%,#ffe0e0 0 20%,#ffd8d8 0 20.29%,#e0ffe0 0 20.58%,#ffb0b0 0 20.87%,#ffe8e8 0 21.16%,#ffd0d0 0 21.45%,#fff8f8 0 21.74%,#ffe8e8 0 22.03%,#fff0f0 0 22.61%,#ffd0d0 0 22.9%,#ffd8d8 0 23.19%,#ffd0d0 0 23.48%,#ffc0c0 0 23.77%,#ffe8e8 0 24.06%,#ffd8d8 0 24.35%,#f8fff8 0 24.64%,#ffd8d8 0 24.93%,#ffa8a8 0 25.22%,#ffe8e8 0 25.51%,#ffb0b0 0 25.8%,#ffe0e0 0 26.38%,#ffd8d8 0 26.67%,#ffe8e8 0 26.96%,#ffd8d8 0 27.25%,#ffd0d0 0 27.54%,#ffc0c0 0 27.83%,#ffc8c8 0 28.12%,#ffe0e0 0 28.41%,#ffc8c8 0 28.7%,#ffb0b0 0 28.99%,#ffc8c8 0 29.57%,#ffffff 0 29.86%,#fff0f0 0 30.14%,#ffd8d8 0 30.72%,#ffe8e8 0 31.01%,#ffe0e0 0 31.59%,#ffe8e8 0 31.88%,#ffe0e0 0 32.46%,#ffd8d8 0 33.04%,#ffe8e8 0 33.62%,#ffc8c8 0 33.91%,#ffd8d8 0 34.2%,#ffc8c8 0 34.78%,#ffffff 0 35.36%,#ffd0d0 0 36.23%,#ffc8c8 0 36.52%,#ffffff 0 36.81%,#fff8f8 0 37.1%,#ffd0d0 0 37.39%,#ffffff 0 37.68%,#ffe8e8 0 38.26%,#ffd0d0 0 38.55%,#ffe0e0 0 38.84%,#f8fff8 0 39.13%,#ffd0d0 0 39.42%,#ffe8e8 0 39.71%,#ffb0b0 0 40%,#ffd0d0 0 40.58%,#ffb8b8 0 40.87%,#ffe8e8 0 41.16%,#fff0f0 0 41.74%,#fff8f8 0 42.03%,#ffd8d8 0 42.32%,#ffe0e0 0 42.61%,#ffa8a8 0 42.9%,#ffc8c8 0 43.19%,#ffc0c0 0 43.48%,#ffc8c8 0 43.77%,#ffd0d0 0 44.06%,#fff8f8 0 44.35%,#ffc8c8 0 44.93%,#ffd0d0 0 45.22%,#ffc0c0 0 45.8%,#ffd8d8 0 46.09%,#ffe0e0 0 46.67%,#fff0f0 0 46.96%,#ffc0c0 0 47.25%,#ffc8c8 0 47.54%,#ffd0d0 0 47.83%,#ffc8c8 0 48.12%,#c8ffc8 0 48.41%,#fff0f0 0 48.7%,#fff8f8 0 48.99%,#ffd0d0 0 49.57%,#ffc8c8 0 49.86%,#ffc0c0 0 50.14%,#f8fff8 0 50.43%,#ffc8c8 0 50.72%,#ffd0d0 0 51.01%,#ffb8b8 0 51.3%,#ffe0e0 0 51.59%,#ffc8c8 0 51.88%,#e8ffe8 0 52.46%,#d8ffd8 0 52.75%,#ffd0d0 0 53.04%,#ffd8d8 0 53.33%,#ffd0d0 0 53.62%,#ffc8c8 0 54.2%,#ffb0b0 0 55.07%,#ffc0c0 0 55.36%,#ffd0d0 0 55.94%,#ffe8e8 0 56.23%,#ffc0c0 0 56.52%,#ffb8b8 0 56.81%,#ffc0c0 0 57.1%,#ffd8d8 0 57.39%,#e8ffe8 0 57.68%,#f8fff8 0 57.97%,#ffffff 0 58.26%,#fff8f8 0 58.55%,#ffffff 0 59.42%,#f0fff0 0 59.71%,#d0ffd0 0 60%,#b8ffb8 0 60.87%,#c8ffc8 0 61.16%,#c0ffc0 0 61.45%,#b8ffb8 0 62.03%,#ffffff 0 62.32%,#e8ffe8 0 62.61%,#f8fff8 0 62.9%,#f0fff0 0 63.77%,#d0ffd0 0 64.06%,#a8ffa8 0 64.35%,#c8ffc8 0 64.64%,#f0fff0 0 65.22%,#d8ffd8 0 65.8%,#c8ffc8 0 66.09%,#d0ffd0 0 66.38%,#d8ffd8 0 66.67%,#e0ffe0 0 66.96%,#e8ffe8 0 67.54%,#d8ffd8 0 68.12%,#c8ffc8 0 68.41%,#c0ffc0 0 68.7%,#c8ffc8 0 68.99%,#ffd0d0 0 69.28%,#d0ffd0 0 69.57%,#f8fff8 0 69.86%,#c0ffc0 0 70.14%,#e8ffe8 0 70.43%,#d0ffd0 0 70.72%,#ffd8d8 0 71.01%,#e0ffe0 0 71.59%,#c8ffc8 0 72.17%,#b8ffb8 0 72.46%,#b0ffb0 0 72.75%,#a8ffa8 0 73.04%,#f0fff0 0 73.33%,#e0ffe0 0 73.62%,#c0ffc0 0 73.91%,#c8ffc8 0 74.2%,#e0ffe0 0 74.49%,#e8ffe8 0 74.78%,#e0ffe0 0 75.07%,#c8ffc8 0 75.65%,#d8ffd8 0 75.94%,#c8ffc8 0 76.23%,#d8ffd8 0 76.81%,#f8fff8 0 77.1%,#c0ffc0 0 77.39%,#f0fff0 0 77.68%,#d8ffd8 0 77.97%,#c0ffc0 0 78.26%,#e0ffe0 0 78.55%,#d8ffd8 0 79.13%,#d0ffd0 0 79.42%,#c8ffc8 0 79.71%,#d0ffd0 0 80%,#d8ffd8 0 80.58%,#c8ffc8 0 80.87%,#d0ffd0 0 81.45%,#e0ffe0 0 81.74%,#ffffff 0 82.03%,#e0ffe0 0 82.32%,#d8ffd8 0 82.9%,#e8ffe8 0 83.48%,#d8ffd8 0 83.77%,#d0ffd0 0 84.64%,#c8ffc8 0 84.93%,#d0ffd0 0 85.22%,#b0ffb0 0 85.51%,#d8ffd8 0 85.8%,#f8fff8 0 86.09%,#fff8f8 0 86.38%,#c8ffc8 0 86.67%,#d0ffd0 0 86.96%,#e0ffe0 0 87.25%,#f8fff8 0 87.54%,#fff8f8 0 87.83%,#e0ffe0 0 88.12%,#c0ffc0 0 88.41%,#c8ffc8 0 88.7%,#c0ffc0 0 88.99%,#c8ffc8 0 89.28%,#d0ffd0 0 89.57%,#c0ffc0 0 89.86%,#d0ffd0 0 90.14%,#f8fff8 0 90.43%,#c0ffc0 0 90.72%,#c8ffc8 0 91.01%,#b8ffb8 0 91.3%,#a8ffa8 0 91.59%,#b0ffb0 0 91.88%,#ffe8e8 0 92.17%,#fff0f0 0 93.04%,#c0ffc0 0 93.33%,#c8ffc8 0 93.62%,#e0ffe0 0 94.49%,#c8ffc8 0 94.78%,#e0ffe0 0 95.07%,#e8ffe8 0 95.36%,#c8ffc8 0 95.94%,#e8ffe8 0 96.23%,#e0ffe0 0 96.52%,#d0ffd0 0 96.81%,#c8ffc8 0 97.1%,#c0ffc0 0 97.39%,#d0ffd0 0 97.68%,#e8ffe8 0 97.97%,#f0fff0 0 98.55%,#c8ffc8 0 99.13%,#d0ffd0 0 99.71%,#e8ffe8 0 100%)"></div>
<div style="position:absolute;left:40.3px;top:10.2px;width:187.7px;height:6px;background:linear-gradient(90deg,#fd9a64 0 57.39%,#00d46c 0)"></div>
<div style="position:absolute;left:40.3px;top:17.6px;width:187.7px;height:6px;background:linear-gradient(90deg,#80c400 0 0.29%,#ff80f8 0 0.58%,#80c400 0 0.87%,#ff80f8 0 1.74%,#ff80a8 0 2.03%,#ff80f8 0 3.19%,#80c400 0 3.48%,#ff80a8 0 4.06%,#ff80f8 0 4.35%,#ff80a8 0 4.93%,#00d8e4 0 5.22%,#ff80f8 0 7.25%,#ff80a8 0 8.12%,#ff80f8 0 11.59%,#80c400 0 11.88%,#ff80a8 0 12.46%,#ff80f8 0 13.04%,#80c400 0 13.91%,#ff80f8 0 14.78%,#80c400 0 15.07%,#ff80f8 0 15.94%,#00d8e4 0 16.52%,#ff80a8 0 17.1%,#00d8e4 0 17.39%,#ff80f8 0 17.68%,#ff80a8 0 18.84%,#80c400 0 19.13%,#ff80f8 0 20%,#00d8e4 0 20.29%,#ff80f8 0 22.03%,#80c400 0 22.32%,#ff80f8 0 22.61%,#80c400 0 23.77%,#ff80f8 0 24.35%,#ff80a8 0 25.22%,#80c400 0 25.51%,#ff80a8 0 25.8%,#ff80f8 0 26.09%,#80c400 0 26.38%,#ff80f8 0 26.67%,#80c400 0 26.96%,#ff80a8 0 27.25%,#ff80f8 0 28.41%,#80c400 0 30.14%,#ff80f8 0 30.72%,#80c400 0 31.3%,#ff80f8 0 32.46%,#80c400 0 33.04%,#ff80f8 0 34.49%,#80c400 0 35.36%,#ff80f8 0 36.23%,#80c400 0 36.52%,#ff80f8 0 36.81%,#00d8e4 0 37.1%,#80c400 0 37.68%,#ff80f8 0 37.97%,#80c400 0 38.55%,#ff80f8 0 39.71%,#80c400 0 40%,#ff80f8 0 40.29%,#80c400 0 40.87%,#ff80f8 0 42.61%,#ff80a8 0 42.9%,#ff80f8 0 43.19%,#80c400 0 43.77%,#ff80f8 0 45.51%,#80c400 0 46.09%,#ff80f8 0 46.96%,#ff80a8 0 47.25%,#ff80f8 0 48.99%,#80c400 0 49.28%,#ff80f8 0 50.14%,#80c400 0 50.43%,#ff80f8 0 51.59%,#80c400 0 51.88%,#ff80f8 0 53.04%,#80c400 0 53.33%,#ff80f8 0 54.49%,#ff80a8 0 54.78%,#ff80f8 0 55.65%,#ff80a8 0 55.94%,#80c400 0 57.1%,#ff80a8 0 57.39%,#ff80f8 0 60.58%,#ff80a8 0 61.16%,#80c400 0 61.45%,#ff80f8 0 62.9%,#ff80a8 0 63.19%,#ff80f8 0 66.67%,#80c400 0 66.96%,#ff80f8 0 75.94%,#ff80a8 0 76.23%,#ff80f8 0 77.1%,#ff80a8 0 77.39%,#ff80f8 0 80.87%,#ff80a8 0 81.74%,#ff80f8 0 85.51%,#80c400 0 85.8%,#ff80f8 0 94.2%,#80c400 0 94.49%,#ff80f8 0 94.78%,#80c400 0 95.07%,#ff80f8 0 97.68%,#ff80a8 0 97.97%,#ff80f8 0 100%)"></div>
<div style="position:absolute;left:40.3px;top:25px;width:187.7px;height:6px;background:linear-gradient(90deg,#cc99ff 0 0.58%,#00d8f4 0 0.87%,#cc99ff 0 2.03%,#00d8f4 0 2.32%,#ff78dc 0 2.9%,#cc99ff 0 3.77%,#ff78dc 0 4.06%,#cc99ff 0 4.64%,#ff78dc 0 4.93%,#00d8bc 0 5.22%,#cc99ff 0 5.51%,#ff78dc 0 6.09%,#cc99ff 0 6.38%,#00d8f4 0 6.67%,#cc99ff 0 7.83%,#ff78dc 0 8.12%,#cc99ff 0 8.41%,#ff78dc 0 9.86%,#00d8f4 0 10.14%,#cc99ff 0 10.43%,#ff78dc 0 11.01%,#00d8f4 0 11.3%,#ff78dc 0 11.59%,#cc99ff 0 13.33%,#ff78dc 0 13.62%,#00d8bc 0 13.91%,#ff78dc 0 14.2%,#cc99ff 0 14.49%,#ff78dc 0 14.78%,#cc99ff 0 15.07%,#00d8f4 0 15.36%,#ff78dc 0 15.94%,#00d8bc 0 16.52%,#c8b400 0 16.81%,#00d8f4 0 17.1%,#cc99ff 0 17.68%,#ff78dc 0 19.13%,#cc99ff 0 20.29%,#ff78dc 0 20.58%,#00d8bc 0 21.16%,#00d8f4 0 21.45%,#ff78dc 0 22.03%,#cc99ff 0 22.32%,#ff78dc 0 22.61%,#cc99ff 0 23.77%,#00d8f4 0 24.06%,#cc99ff 0 24.64%,#ff78dc 0 24.93%,#cc99ff 0 25.51%,#00d8f4 0 25.8%,#cc99ff 0 26.67%,#ff78dc 0 26.96%,#00d8bc 0 27.25%,#cc99ff 0 27.54%,#ff78dc 0 27.83%,#c8b400 0 28.41%,#00d8bc 0 28.7%,#cc99ff 0 28.99%,#00d8bc 0 29.28%,#cc99ff 0 29.57%,#00d8bc 0 30.43%,#ff78dc 0 30.72%,#cc99ff 0 31.01%,#ff78dc 0 31.59%,#cc99ff 0 31.88%,#00d8f4 0 32.46%,#ff78dc 0 32.75%,#cc99ff 0 33.04%,#00d8bc 0 33.33%,#cc99ff 0 34.49%,#ff78dc 0 34.78%,#cc99ff 0 35.65%,#ff78dc 0 35.94%,#c8b400 0 36.23%,#cc99ff 0 36.52%,#ff78dc 0 37.39%,#cc99ff 0 38.55%,#ff78dc 0 38.84%,#00d8f4 0 39.13%,#cc99ff 0 39.71%,#00d8f4 0 40.58%,#00d8bc 0 40.87%,#ff78dc 0 41.74%,#00d8f4 0 42.03%,#ff78dc 0 42.9%,#cc99ff 0 43.77%,#ff78dc 0 44.93%,#00d8bc 0 45.22%,#c8b400 0 45.51%,#cc99ff 0 45.8%,#ff78dc 0 46.09%,#cc99ff 0 46.96%,#ff78dc 0 47.25%,#cc99ff 0 47.54%,#ff78dc 0 48.12%,#00d8bc 0 48.41%,#cc99ff 0 48.99%,#ff78dc 0 49.28%,#cc99ff 0 49.57%,#ff78dc 0 49.86%,#cc99ff 0 50.43%,#ff78dc 0 51.3%,#c8b400 0 51.88%,#00d8bc 0 52.75%,#cc99ff 0 53.62%,#ff78dc 0 53.91%,#cc99ff 0 54.2%,#ff78dc 0 54.49%,#00d8f4 0 55.36%,#cc99ff 0 55.65%,#ff78dc 0 55.94%,#00d8f4 0 56.23%,#ff78dc 0 56.81%,#cc99ff 0 57.1%,#00d8f4 0 57.68%,#00d8bc 0 57.97%,#00d8f4 0 60%,#cc99ff 0 60.29%,#00d8f4 0 61.16%,#cc99ff 0 61.74%,#ff78dc 0 62.03%,#00d8f4 0 62.32%,#ff78dc 0 62.61%,#cc99ff 0 63.19%,#00d8f4 0 63.77%,#cc99ff 0 64.35%,#00d8bc 0 64.93%,#cc99ff 0 65.22%,#ff78dc 0 65.51%,#00d8bc 0 66.09%,#ff78dc 0 66.67%,#00d8bc 0 66.96%,#c8b400 0 67.25%,#00d8f4 0 67.54%,#00d8bc 0 67.83%,#00d8f4 0 68.12%,#00d8bc 0 68.41%,#cc99ff 0 68.99%,#ff78dc 0 69.28%,#00d8f4 0 69.57%,#00d8bc 0 69.86%,#00d8f4 0 70.72%,#cc99ff 0 71.59%,#00d8f4 0 71.88%,#00d8bc 0 72.17%,#c8b400 0 72.46%,#00d8bc 0 72.75%,#cc99ff 0 73.33%,#ff78dc 0 73.62%,#cc99ff 0 74.2%,#00d8bc 0 74.78%,#00d8f4 0 75.36%,#ff78dc 0 75.65%,#00d8f4 0 75.94%,#cc99ff 0 76.52%,#ff78dc 0 77.68%,#cc99ff 0 77.97%,#ff78dc 0 78.84%,#00d8f4 0 80.29%,#ff78dc 0 80.58%,#00d8f4 0 80.87%,#ff78dc 0 81.45%,#cc99ff 0 82.32%,#00d8f4 0 82.9%,#cc99ff 0 83.48%,#ff78dc 0 84.35%,#cc99ff 0 84.93%,#00d8bc 0 85.22%,#00d8f4 0 85.51%,#c8b400 0 85.8%,#00d8bc 0 86.09%,#cc99ff 0 86.38%,#ff78dc 0 86.67%,#00d8bc 0 86.96%,#cc99ff 0 87.25%,#00d8bc 0 87.83%,#ff78dc 0 88.41%,#cc99ff 0 88.7%,#ff78dc 0 88.99%,#00d8f4 0 89.57%,#cc99ff 0 90.14%,#00d8f4 0 91.3%,#00d8bc 0 91.59%,#ff78dc 0 91.88%,#cc99ff 0 92.17%,#ff78dc 0 94.2%,#00d8bc 0 95.07%,#00d8f4 0 95.36%,#ff78dc 0 96.81%,#cc99ff 0 98.26%,#00d8f4 0 99.13%,#c8b400 0 99.42%,#00d8f4 0 99.71%,#00d8bc 0 100%)"></div>
<div style="position:absolute;left:40.3px;top:32.4px;width:187.7px;height:6px;background:linear-gradient(90deg,#ffa030 0 0.58%,#ff66ee 0 0.87%,#ffa030 0 1.45%,#ff66ee 0 2.61%,#ffa030 0 3.48%,#ff66ee 0 3.77%,#ffa030 0 4.06%,#1ed8a4 0 4.35%,#ffa030 0 4.64%,#1ed8a4 0 4.93%,#ffa030 0 5.51%,#ff66ee 0 5.8%,#ffa030 0 6.67%,#ff66ee 0 7.25%,#e89cff 0 7.54%,#ffa030 0 7.83%,#1ed8a4 0 8.12%,#ffa030 0 8.41%,#e89cff 0 8.7%,#ff66ee 0 8.99%,#ffa030 0 9.28%,#1ed8a4 0 9.57%,#ff66ee 0 10.43%,#ffa030 0 10.72%,#e89cff 0 11.01%,#ffa030 0 12.17%,#ff66ee 0 12.75%,#e89cff 0 13.33%,#ff66ee 0 14.2%,#e89cff 0 14.49%,#1ed8a4 0 15.07%,#ffa030 0 15.94%,#e89cff 0 16.23%,#ff66ee 0 16.81%,#ffa030 0 19.71%,#e89cff 0 20%,#1ed8a4 0 20.29%,#ffa030 0 21.16%,#e89cff 0 21.45%,#ff66ee 0 21.74%,#ffa030 0 23.19%,#ff66ee 0 23.77%,#ffa030 0 24.35%,#ff66ee 0 24.64%,#e89cff 0 24.93%,#1ed8a4 0 25.22%,#ffa030 0 25.8%,#1ed8a4 0 26.09%,#e89cff 0 26.38%,#ff66ee 0 26.96%,#e89cff 0 27.54%,#ffa030 0 27.83%,#e89cff 0 28.41%,#ffa030 0 28.7%,#e89cff 0 28.99%,#1ed8a4 0 29.28%,#ff66ee 0 29.57%,#e89cff 0 29.86%,#ff66ee 0 30.72%,#ffa030 0 31.01%,#ff66ee 0 31.3%,#ffa030 0 31.59%,#1ed8a4 0 31.88%,#ffa030 0 33.04%,#1ed8a4 0 33.62%,#ff66ee 0 34.2%,#ffa030 0 35.36%,#1ed8a4 0 35.65%,#ff66ee 0 35.94%,#e89cff 0 36.23%,#ffa030 0 36.52%,#1ed8a4 0 37.1%,#ffa030 0 37.97%,#ff66ee 0 38.26%,#ffa030 0 39.13%,#e89cff 0 39.42%,#ffa030 0 39.71%,#e89cff 0 40%,#ffa030 0 40.58%,#ff66ee 0 40.87%,#ffa030 0 41.16%,#ff66ee 0 42.03%,#e89cff 0 42.32%,#ffa030 0 42.9%,#ff66ee 0 43.19%,#e89cff 0 43.48%,#ffa030 0 43.77%,#e89cff 0 44.06%,#ffa030 0 44.35%,#ff66ee 0 44.93%,#ffa030 0 45.22%,#ff66ee 0 45.51%,#e89cff 0 46.09%,#ffa030 0 46.67%,#e89cff 0 47.83%,#ffa030 0 48.12%,#e89cff 0 48.41%,#ffa030 0 48.7%,#e89cff 0 48.99%,#ffa030 0 49.57%,#ff66ee 0 50.72%,#ffa030 0 51.01%,#ff66ee 0 51.59%,#ffa030 0 52.75%,#ff66ee 0 53.04%,#ffa030 0 56.52%,#e89cff 0 56.81%,#ffa030 0 57.39%,#e89cff 0 57.68%,#1ed8a4 0 57.97%,#e89cff 0 58.55%,#ff66ee 0 58.84%,#e89cff 0 59.42%,#ff66ee 0 61.16%,#e89cff 0 64.35%,#ffa030 0 64.64%,#ff66ee 0 65.22%,#1ed8a4 0 65.51%,#ffa030 0 66.09%,#ff66ee 0 66.38%,#ffa030 0 66.67%,#ff66ee 0 66.96%,#ffa030 0 67.25%,#ff66ee 0 68.41%,#e89cff 0 68.7%,#ff66ee 0 69.86%,#e89cff 0 70.14%,#ff66ee 0 70.43%,#e89cff 0 73.04%,#1ed8a4 0 73.33%,#ff66ee 0 74.2%,#e89cff 0 74.78%,#ff66ee 0 75.07%,#e89cff 0 75.36%,#ff66ee 0 76.81%,#e89cff 0 77.97%,#1ed8a4 0 78.26%,#ff66ee 0 79.42%,#e89cff 0 79.71%,#ff66ee 0 80.58%,#1ed8a4 0 81.16%,#ffa030 0 81.45%,#e89cff 0 81.74%,#ffa030 0 82.03%,#e89cff 0 82.32%,#ff66ee 0 83.48%,#ffa030 0 83.77%,#ff66ee 0 84.35%,#e89cff 0 84.64%,#1ed8a4 0 84.93%,#ff66ee 0 85.8%,#ffa030 0 86.09%,#ff66ee 0 86.67%,#ffa030 0 87.83%,#e89cff 0 88.7%,#ff66ee 0 88.99%,#e89cff 0 90.14%,#ff66ee 0 90.43%,#ffa030 0 91.01%,#e89cff 0 91.88%,#ff66ee 0 92.75%,#ffa030 0 93.04%,#ff66ee 0 93.33%,#e89cff 0 93.91%,#ff66ee 0 94.49%,#e89cff 0 95.65%,#1ed8a4 0 95.94%,#e89cff 0 96.52%,#1ed8a4 0 96.81%,#ff66ee 0 97.68%,#ffa030 0 97.97%,#e89cff 0 98.26%,#ffa030 0 98.55%,#ff66ee 0 99.13%,#e89cff 0 99.71%,#ff66ee 0 100%)"></div>
<div style="position:absolute;left:40.3px;top:39.8px;width:187.7px;height:6px;background:linear-gradient(90deg,#dab000 0 61.16%,#ff80c8 0 61.45%,#dab000 0 62.9%,#ff80c8 0 63.19%,#dab000 0 72.17%,#ff80c8 0 72.75%,#dab000 0 73.62%,#ff80c8 0 74.2%,#dab000 0 75.94%,#ff80c8 0 76.23%,#dab000 0 78.84%,#ff80c8 0 79.13%,#dab000 0 82.9%,#ff80c8 0 83.19%,#dab000 0 84.06%,#ff80c8 0 84.64%,#dab000 0 86.38%,#ff80c8 0 86.67%,#dab000 0 88.41%,#ff80c8 0 88.7%,#dab000 0 89.57%,#ff80c8 0 89.86%,#dab000 0 92.46%,#ff80c8 0 93.04%,#dab000 0 94.2%,#ff80c8 0 94.49%,#dab000 0 98.26%,#ff80c8 0 98.55%,#dab000 0 100%)"></div>
<div style="position:absolute;left:40.3px;top:47.2px;width:187.7px;height:6px;background:linear-gradient(90deg,#a8a8ff 0 0.29%,#68b8ff 0 2.61%,#a8a8ff 0 4.35%,#68b8ff 0 4.93%,#a8a8ff 0 5.22%,#68b8ff 0 6.09%,#a8a8ff 0 6.38%,#68b8ff 0 7.25%,#a8a8ff 0 7.54%,#68b8ff 0 7.83%,#a8a8ff 0 9.28%,#68b8ff 0 10.72%,#a8a8ff 0 11.01%,#68b8ff 0 12.17%,#a8a8ff 0 12.75%,#68b8ff 0 13.33%,#a8a8ff 0 13.62%,#68b8ff 0 13.91%,#a8a8ff 0 14.2%,#68b8ff 0 14.49%,#a8a8ff 0 14.78%,#68b8ff 0 15.07%,#a8a8ff 0 15.65%,#68b8ff 0 15.94%,#a8a8ff 0 16.52%,#68b8ff 0 17.1%,#a8a8ff 0 17.97%,#68b8ff 0 18.55%,#a8a8ff 0 19.13%,#68b8ff 0 20.29%,#a8a8ff 0 21.16%,#68b8ff 0 21.45%,#a8a8ff 0 22.32%,#68b8ff 0 22.9%,#a8a8ff 0 24.06%,#68b8ff 0 24.64%,#a8a8ff 0 25.51%,#68b8ff 0 25.8%,#a8a8ff 0 26.09%,#68b8ff 0 26.38%,#a8a8ff 0 27.54%,#68b8ff 0 27.83%,#a8a8ff 0 28.12%,#68b8ff 0 28.7%,#a8a8ff 0 28.99%,#68b8ff 0 29.28%,#a8a8ff 0 29.86%,#68b8ff 0 30.14%,#a8a8ff 0 30.43%,#68b8ff 0 31.01%,#a8a8ff 0 31.59%,#68b8ff 0 32.17%,#a8a8ff 0 32.46%,#68b8ff 0 33.04%,#a8a8ff 0 33.33%,#68b8ff 0 34.49%,#a8a8ff 0 34.78%,#68b8ff 0 35.07%,#a8a8ff 0 35.36%,#68b8ff 0 35.65%,#a8a8ff 0 35.94%,#68b8ff 0 37.39%,#a8a8ff 0 37.97%,#68b8ff 0 38.26%,#a8a8ff 0 40%,#68b8ff 0 40.87%,#a8a8ff 0 41.74%,#68b8ff 0 42.61%,#a8a8ff 0 43.77%,#68b8ff 0 44.06%,#a8a8ff 0 44.35%,#68b8ff 0 44.93%,#a8a8ff 0 48.41%,#68b8ff 0 49.28%,#a8a8ff 0 50.14%,#68b8ff 0 50.43%,#a8a8ff 0 51.01%,#68b8ff 0 51.3%,#a8a8ff 0 51.59%,#68b8ff 0 51.88%,#a8a8ff 0 52.17%,#68b8ff 0 52.46%,#a8a8ff 0 52.75%,#68b8ff 0 53.33%,#a8a8ff 0 53.91%,#68b8ff 0 54.2%,#a8a8ff 0 54.49%,#68b8ff 0 55.07%,#a8a8ff 0 56.81%,#68b8ff 0 57.39%,#a8a8ff 0 57.97%,#68b8ff 0 58.26%,#a8a8ff 0 58.55%,#68b8ff 0 59.42%,#a8a8ff 0 59.71%,#68b8ff 0 60%,#a8a8ff 0 60.29%,#68b8ff 0 60.58%,#a8a8ff 0 60.87%,#68b8ff 0 62.61%,#a8a8ff 0 62.9%,#68b8ff 0 63.19%,#a8a8ff 0 64.64%,#68b8ff 0 64.93%,#a8a8ff 0 65.22%,#68b8ff 0 65.51%,#a8a8ff 0 68.12%,#68b8ff 0 68.99%,#a8a8ff 0 69.28%,#68b8ff 0 69.57%,#a8a8ff 0 70.43%,#68b8ff 0 70.72%,#a8a8ff 0 71.88%,#68b8ff 0 72.17%,#a8a8ff 0 74.2%,#68b8ff 0 75.07%,#a8a8ff 0 75.94%,#68b8ff 0 76.52%,#a8a8ff 0 80.29%,#68b8ff 0 80.58%,#a8a8ff 0 80.87%,#68b8ff 0 81.45%,#a8a8ff 0 81.74%,#68b8ff 0 82.32%,#a8a8ff 0 83.19%,#68b8ff 0 83.48%,#a8a8ff 0 85.8%,#68b8ff 0 86.38%,#a8a8ff 0 86.96%,#68b8ff 0 87.54%,#a8a8ff 0 87.83%,#68b8ff 0 88.7%,#a8a8ff 0 89.86%,#68b8ff 0 90.14%,#a8a8ff 0 93.33%,#68b8ff 0 93.62%,#a8a8ff 0 93.91%,#68b8ff 0 94.2%,#a8a8ff 0 95.07%,#68b8ff 0 95.94%,#a8a8ff 0 98.84%,#68b8ff 0 99.13%,#a8a8ff 0 99.71%,#68b8ff 0 100%)"></div>
<div style="position:absolute;left:40.3px;top:54.6px;width:187.7px;height:6px;background:linear-gradient(90deg,#00c8ff 0 0.29%,#a8c000 0 0.58%,#e8a800 0 0.87%,#00c8ff 0 1.16%,#e8a800 0 1.45%,#00c8ff 0 1.74%,#a8c000 0 2.9%,#00c8ff 0 3.48%,#a8c000 0 3.77%,#e8a800 0 4.06%,#a8c000 0 4.35%,#00c8ff 0 4.64%,#a8c000 0 4.93%,#e8a800 0 5.22%,#a8c000 0 6.09%,#00c8ff 0 7.54%,#1ed68c 0 7.83%,#e8a800 0 8.12%,#1ed68c 0 8.41%,#a8c000 0 8.7%,#00c8ff 0 10.14%,#1ed68c 0 10.43%,#00c8ff 0 11.3%,#a8c000 0 11.59%,#00c8ff 0 12.17%,#a8c000 0 12.46%,#00c8ff 0 13.04%,#a8c000 0 13.33%,#00c8ff 0 14.78%,#a8c000 0 15.36%,#00c8ff 0 16.23%,#a8c000 0 17.39%,#00c8ff 0 18.84%,#a8c000 0 19.42%,#e8a800 0 19.71%,#1ed68c 0 20.58%,#00c8ff 0 21.16%,#e8a800 0 21.74%,#00c8ff 0 23.19%,#a8c000 0 23.48%,#00c8ff 0 24.35%,#1ed68c 0 24.64%,#00c8ff 0 27.54%,#a8c000 0 27.83%,#00c8ff 0 28.41%,#1ed68c 0 28.7%,#a8c000 0 29.57%,#00c8ff 0 29.86%,#1ed68c 0 30.14%,#a8c000 0 30.43%,#00c8ff 0 30.72%,#1ed68c 0 31.01%,#00c8ff 0 31.3%,#e8a800 0 31.59%,#00c8ff 0 32.46%,#e8a800 0 32.75%,#00c8ff 0 33.62%,#a8c000 0 34.2%,#00c8ff 0 34.78%,#a8c000 0 35.07%,#00c8ff 0 35.65%,#a8c000 0 35.94%,#00c8ff 0 36.81%,#a8c000 0 37.1%,#00c8ff 0 37.39%,#e8a800 0 37.97%,#a8c000 0 38.26%,#1ed68c 0 38.84%,#a8c000 0 39.42%,#00c8ff 0 40%,#1ed68c 0 40.58%,#00c8ff 0 41.16%,#a8c000 0 41.74%,#00c8ff 0 44.64%,#e8a800 0 44.93%,#00c8ff 0 46.38%,#a8c000 0 46.96%,#e8a800 0 47.54%,#00c8ff 0 48.99%,#a8c000 0 49.28%,#e8a800 0 49.57%,#00c8ff 0 50.43%,#a8c000 0 51.59%,#00c8ff 0 51.88%,#a8c000 0 52.17%,#00c8ff 0 52.46%,#a8c000 0 52.75%,#00c8ff 0 53.91%,#1ed68c 0 54.78%,#a8c000 0 55.07%,#00c8ff 0 55.36%,#e8a800 0 55.65%,#1ed68c 0 56.23%,#e8a800 0 56.81%,#00c8ff 0 57.1%,#a8c000 0 57.39%,#00c8ff 0 58.55%,#a8c000 0 58.84%,#00c8ff 0 59.13%,#1ed68c 0 59.42%,#00c8ff 0 59.71%,#a8c000 0 60%,#e8a800 0 60.29%,#a8c000 0 60.58%,#00c8ff 0 60.87%,#1ed68c 0 61.16%,#00c8ff 0 61.74%,#1ed68c 0 62.03%,#a8c000 0 62.32%,#00c8ff 0 63.48%,#1ed68c 0 64.06%,#a8c000 0 64.35%,#1ed68c 0 65.22%,#00c8ff 0 65.51%,#1ed68c 0 66.09%,#00c8ff 0 66.38%,#e8a800 0 66.67%,#a8c000 0 66.96%,#00c8ff 0 67.25%,#a8c000 0 67.54%,#00c8ff 0 67.83%,#1ed68c 0 68.7%,#00c8ff 0 69.57%,#1ed68c 0 70.72%,#e8a800 0 71.3%,#1ed68c 0 72.17%,#00c8ff 0 72.75%,#a8c000 0 73.91%,#1ed68c 0 74.49%,#00c8ff 0 74.78%,#1ed68c 0 75.07%,#00c8ff 0 75.36%,#a8c000 0 76.23%,#1ed68c 0 76.52%,#e8a800 0 76.81%,#1ed68c 0 77.1%,#00c8ff 0 77.97%,#1ed68c 0 78.26%,#e8a800 0 78.55%,#a8c000 0 78.84%,#00c8ff 0 79.13%,#a8c000 0 79.71%,#1ed68c 0 80%,#e8a800 0 80.58%,#a8c000 0 80.87%,#00c8ff 0 81.45%,#1ed68c 0 81.74%,#a8c000 0 82.03%,#1ed68c 0 82.32%,#a8c000 0 82.61%,#1ed68c 0 82.9%,#00c8ff 0 83.19%,#1ed68c 0 84.06%,#00c8ff 0 84.35%,#e8a800 0 84.93%,#00c8ff 0 85.22%,#a8c000 0 85.8%,#00c8ff 0 86.09%,#a8c000 0 86.96%,#1ed68c 0 87.25%,#e8a800 0 88.12%,#a8c000 0 88.41%,#1ed68c 0 88.7%,#00c8ff 0 88.99%,#a8c000 0 89.28%,#1ed68c 0 89.57%,#00c8ff 0 89.86%,#1ed68c 0 90.72%,#00c8ff 0 91.3%,#a8c000 0 91.59%,#e8a800 0 91.88%,#1ed68c 0 92.17%,#00c8ff 0 92.46%,#1ed68c 0 93.33%,#00c8ff 0 93.62%,#1ed68c 0 93.91%,#a8c000 0 94.49%,#00c8ff 0 94.78%,#1ed68c 0 95.07%,#a8c000 0 95.36%,#00c8ff 0 95.94%,#1ed68c 0 96.52%,#00c8ff 0 97.1%,#a8c000 0 97.68%,#1ed68c 0 97.97%,#00c8ff 0 98.84%,#1ed68c 0 99.13%,#a8c000 0 99.71%,#1ed68c 0 100%)"></div>
<div style="position:absolute;left:40.3px;top:62px;width:187.7px;height:6px;background:linear-gradient(90deg,#ff8a80 0 0.58%,#4cd444 0 1.74%,#ff8a80 0 2.03%,#4cd444 0 2.61%,#ff8a80 0 4.06%,#4cd444 0 4.93%,#ff8a80 0 5.51%,#4cd444 0 5.8%,#ff8a80 0 6.38%,#4cd444 0 6.67%,#ff8a80 0 6.96%,#4cd444 0 8.12%,#ff8a80 0 8.41%,#4cd444 0 9.86%,#ff8a80 0 10.14%,#4cd444 0 10.43%,#ff8a80 0 10.72%,#4cd444 0 11.88%,#ff8a80 0 13.33%,#4cd444 0 13.62%,#ff8a80 0 13.91%,#4cd444 0 14.2%,#ff8a80 0 14.49%,#4cd444 0 15.07%,#ff8a80 0 15.36%,#4cd444 0 17.39%,#ff8a80 0 17.97%,#4cd444 0 19.71%,#ff8a80 0 20.29%,#4cd444 0 20.58%,#ff8a80 0 20.87%,#4cd444 0 21.16%,#ff8a80 0 21.45%,#4cd444 0 22.32%,#ff8a80 0 23.19%,#4cd444 0 24.06%,#ff8a80 0 24.35%,#4cd444 0 25.22%,#ff8a80 0 25.8%,#4cd444 0 27.25%,#ff8a80 0 27.54%,#4cd444 0 27.83%,#ff8a80 0 28.12%,#4cd444 0 28.41%,#ff8a80 0 28.7%,#4cd444 0 28.99%,#ff8a80 0 29.28%,#4cd444 0 29.57%,#ff8a80 0 29.86%,#4cd444 0 30.72%,#ff8a80 0 31.88%,#4cd444 0 32.17%,#ff8a80 0 33.04%,#4cd444 0 33.33%,#ff8a80 0 33.62%,#4cd444 0 33.91%,#ff8a80 0 34.49%,#4cd444 0 35.07%,#ff8a80 0 35.94%,#4cd444 0 36.81%,#ff8a80 0 37.1%,#4cd444 0 39.42%,#ff8a80 0 39.71%,#4cd444 0 40.58%,#ff8a80 0 41.45%,#4cd444 0 41.74%,#ff8a80 0 42.32%,#4cd444 0 43.19%,#ff8a80 0 44.35%,#4cd444 0 45.8%,#ff8a80 0 46.67%,#4cd444 0 47.25%,#ff8a80 0 47.54%,#4cd444 0 48.12%,#ff8a80 0 48.41%,#4cd444 0 48.99%,#ff8a80 0 49.57%,#4cd444 0 50.14%,#ff8a80 0 50.43%,#4cd444 0 50.72%,#ff8a80 0 52.17%,#4cd444 0 53.04%,#ff8a80 0 53.91%,#4cd444 0 55.07%,#ff8a80 0 55.94%,#4cd444 0 57.97%,#ff8a80 0 58.55%,#4cd444 0 58.84%,#ff8a80 0 60%,#4cd444 0 60.58%,#ff8a80 0 60.87%,#4cd444 0 61.16%,#ff8a80 0 61.45%,#4cd444 0 61.74%,#ff8a80 0 62.9%,#4cd444 0 63.48%,#ff8a80 0 63.77%,#4cd444 0 64.64%,#ff8a80 0 64.93%,#4cd444 0 65.8%,#ff8a80 0 66.67%,#4cd444 0 66.96%,#ff8a80 0 67.83%,#4cd444 0 68.99%,#ff8a80 0 71.88%,#4cd444 0 72.75%,#ff8a80 0 73.33%,#4cd444 0 74.78%,#ff8a80 0 75.36%,#4cd444 0 75.94%,#ff8a80 0 76.52%,#4cd444 0 76.81%,#ff8a80 0 79.13%,#4cd444 0 80%,#ff8a80 0 80.29%,#4cd444 0 80.87%,#ff8a80 0 81.45%,#4cd444 0 82.03%,#ff8a80 0 82.61%,#4cd444 0 84.64%,#ff8a80 0 84.93%,#4cd444 0 85.8%,#ff8a80 0 87.25%,#4cd444 0 88.7%,#ff8a80 0 89.86%,#4cd444 0 90.43%,#ff8a80 0 90.72%,#4cd444 0 91.01%,#ff8a80 0 91.3%,#4cd444 0 91.59%,#ff8a80 0 91.88%,#4cd444 0 92.46%,#ff8a80 0 93.33%,#4cd444 0 93.91%,#ff8a80 0 94.2%,#4cd444 0 94.49%,#ff8a80 0 98.55%,#4cd444 0 99.13%,#ff8a80 0 99.42%,#4cd444 0 99.71%,#ff8a80 0 100%)"></div>
<div style="position:absolute;left:407.2px;top:70px;width:200.1px;height:50.97px;background:linear-gradient(90deg,#ffe0e0 0 1.18%,#ffd8d8 0 1.78%,#f8fff8 0 2.37%,#ffc0c0 0 2.96%,#f0fff0 0 3.55%,#ffd0d0 0 4.14%,#fff8f8 0 4.73%,#ffe8e8 0 5.33%,#ffd8d8 0 5.92%,#ffb8b8 0 6.51%,#ffd0d0 0 7.1%,#ffb0b0 0 7.69%,#fff8f8 0 8.28%,#ffa0a0 0 8.88%,#ffa8a8 0 9.47%,#ffd8d8 0 10.06%,#ffe8e8 0 11.83%,#ffe0e0 0 13.02%,#f8fff8 0 13.61%,#fff0f0 0 14.2%,#ffa8a8 0 14.79%,#ffe8e8 0 15.38%,#ffffff 0 15.98%,#ffd8d8 0 16.57%,#ffd0d0 0 17.75%,#f8fff8 0 18.34%,#ffb8b8 0 18.93%,#ff9090 0 19.53%,#ffd8d8 0 20.12%,#ffe8e8 0 21.89%,#fff0f0 0 22.49%,#ffd8d8 0 23.08%,#fff0f0 0 23.67%,#ffb8b8 0 24.26%,#ffd0d0 0 24.85%,#ffe0e0 0 25.44%,#ffd8d8 0 26.04%,#ffe8e8 0 26.63%,#ffffff 0 27.22%,#ffe0e0 0 27.81%,#ffb0b0 0 28.4%,#ffc0c0 0 28.99%,#d8ffd8 0 29.59%,#e8ffe8 0 30.18%,#ffd0d0 0 30.77%,#ffe0e0 0 31.36%,#fff0f0 0 31.95%,#ffc0c0 0 32.54%,#ffb0b0 0 33.14%,#fff8f8 0 33.73%,#ff8888 0 34.32%,#ff9090 0 34.91%,#fff0f0 0 35.5%,#ffe0e0 0 36.09%,#fff0f0 0 37.28%,#ffd0d0 0 37.87%,#ffe8e8 0 38.46%,#ffe0e0 0 39.05%,#fff0f0 0 39.64%,#ffffff 0 40.24%,#ffc8c8 0 40.83%,#ffc0c0 0 41.42%,#ffc8c8 0 42.01%,#e0ffe0 0 43.2%,#fff8f8 0 43.79%,#ffe8e8 0 44.38%,#fff8f8 0 44.97%,#ffe0e0 0 45.56%,#d8ffd8 0 46.75%,#f8fff8 0 47.34%,#f0fff0 0 47.93%,#ffffff 0 48.52%,#d8ffd8 0 49.11%,#e0ffe0 0 49.7%,#d8ffd8 0 50.89%,#ffffff 0 51.48%,#d8ffd8 0 52.07%,#fff8f8 0 52.66%,#e8ffe8 0 53.25%,#f8fff8 0 53.85%,#fff8f8 0 54.44%,#d0ffd0 0 55.03%,#d8ffd8 0 56.21%,#c0ffc0 0 56.8%,#f0fff0 0 57.99%,#e8ffe8 0 58.58%,#ffffff 0 59.17%,#d0ffd0 0 59.76%,#b8ffb8 0 60.36%,#e8ffe8 0 60.95%,#e0ffe0 0 62.13%,#b8ffb8 0 62.72%,#f0fff0 0 63.31%,#e0ffe0 0 63.91%,#e8ffe8 0 64.5%,#f0fff0 0 65.09%,#d0ffd0 0 65.68%,#ffffff 0 66.27%,#fff8f8 0 66.86%,#f8fff8 0 67.46%,#fff8f8 0 68.05%,#d0ffd0 0 68.64%,#e0ffe0 0 69.23%,#d8ffd8 0 69.82%,#f8fff8 0 70.41%,#d8ffd8 0 71.01%,#f0fff0 0 71.6%,#e0ffe0 0 72.19%,#f8fff8 0 73.96%,#fff8f8 0 74.56%,#e0ffe0 0 75.15%,#ffffff 0 75.74%,#d0ffd0 0 76.92%,#c0ffc0 0 77.51%,#f0fff0 0 78.11%,#f8fff8 0 78.7%,#d8ffd8 0 79.29%,#e8ffe8 0 79.88%,#e0ffe0 0 80.47%,#d0ffd0 0 81.07%,#c8ffc8 0 81.66%,#e0ffe0 0 82.25%,#d8ffd8 0 82.84%,#f8fff8 0 83.43%,#f0fff0 0 84.02%,#e8ffe8 0 84.62%,#f0fff0 0 85.21%,#d8ffd8 0 85.8%,#fff0f0 0 86.39%,#c8ffc8 0 86.98%,#e8ffe8 0 87.57%,#f0fff0 0 88.17%,#d8ffd8 0 88.76%,#ffffff 0 89.35%,#ffd0d0 0 89.94%,#ffffff 0 90.53%,#c8ffc8 0 91.12%,#ffe8e8 0 91.72%,#f0fff0 0 92.31%,#d0ffd0 0 92.9%,#fff0f0 0 93.49%,#c8ffc8 0 94.08%,#f0fff0 0 94.67%,#d8ffd8 0 95.27%,#c0ffc0 0 95.86%,#e0ffe0 0 96.45%,#d0ffd0 0 97.04%,#e0ffe0 0 97.63%,#f0fff0 0 98.82%,#c8ffc8 0 99.41%,#f8fff8 0 100%)"></div>
<div style="position:absolute;left:407.2px;top:120.97px;width:200.1px;height:50.97px;background:linear-gradient(90deg,#ffe0e0 0 0.59%,#ff8080 0 1.18%,#ffc0c0 0 2.37%,#ffc8c8 0 2.96%,#ff7878 0 3.55%,#ffe0e0 0 4.14%,#f8fff8 0 4.73%,#fff8f8 0 5.33%,#ffd0d0 0 5.92%,#ffc8c8 0 6.51%,#ffb8b8 0 7.1%,#ffffff 0 7.69%,#ffd0d0 0 8.28%,#f8fff8 0 8.88%,#ffd8d8 0 9.47%,#ffffff 0 10.06%,#f8fff8 0 10.65%,#ffe0e0 0 11.24%,#fff8f8 0 11.83%,#ffa0a0 0 12.43%,#ffc8c8 0 13.02%,#ffc0c0 0 13.61%,#d8ffd8 0 14.2%,#e0ffe0 0 14.79%,#ff7070 0 15.38%,#ffffff 0 15.98%,#fff0f0 0 16.57%,#ffc8c8 0 17.16%,#fff0f0 0 17.75%,#ffb8b8 0 18.34%,#ff9898 0 19.53%,#ff5858 0 20.12%,#ffa8a8 0 20.71%,#fff8f8 0 21.3%,#f8fff8 0 21.89%,#fff0f0 0 22.49%,#ffb8b8 0 23.67%,#ffc0c0 0 24.26%,#fff8f8 0 24.85%,#ffe0e0 0 26.04%,#ffa0a0 0 26.63%,#ffb0b0 0 27.22%,#ffd8d8 0 27.81%,#ffd0d0 0 28.4%,#ffffff 0 28.99%,#ffb0b0 0 29.59%,#f8fff8 0 30.18%,#f0fff0 0 30.77%,#e8ffe8 0 31.36%,#ff9090 0 31.95%,#ffc0c0 0 32.54%,#ff8888 0 33.14%,#ff9898 0 34.32%,#ffffff 0 34.91%,#ffb8b8 0 35.5%,#f8fff8 0 36.09%,#ffb8b8 0 36.69%,#ff9898 0 37.87%,#ffe0e0 0 38.46%,#ffa8a8 0 39.05%,#d8ffd8 0 39.64%,#ff7070 0 40.24%,#ffc0c0 0 40.83%,#ff7878 0 41.42%,#ffd0d0 0 42.01%,#fff8f8 0 42.6%,#ffffff 0 43.2%,#ffc8c8 0 43.79%,#ff9090 0 44.38%,#ffa0a0 0 44.97%,#ffb0b0 0 45.56%,#ffb8b8 0 46.15%,#ffffff 0 46.75%,#f8fff8 0 47.93%,#d8ffd8 0 48.52%,#ff9090 0 49.11%,#e8ffe8 0 49.7%,#fff8f8 0 50.3%,#f0fff0 0 50.89%,#fff8f8 0 51.48%,#f0fff0 0 52.07%,#e8ffe8 0 52.66%,#b8ffb8 0 53.25%,#f0fff0 0 55.03%,#f8fff8 0 56.21%,#ff9898 0 56.8%,#d8ffd8 0 57.4%,#fff0f0 0 57.99%,#fff8f8 0 58.58%,#f0fff0 0 59.17%,#f8fff8 0 60.36%,#fff8f8 0 60.95%,#f0fff0 0 61.54%,#ffffff 0 62.13%,#f8fff8 0 62.72%,#ffffff 0 63.31%,#fff8f8 0 63.91%,#c8ffc8 0 64.5%,#e0ffe0 0 65.09%,#f0fff0 0 65.68%,#f8fff8 0 66.27%,#f0fff0 0 66.86%,#e0ffe0 0 68.05%,#f8fff8 0 69.23%,#e0ffe0 0 69.82%,#ffb0b0 0 70.41%,#d8ffd8 0 71.01%,#c8ffc8 0 71.6%,#f8fff8 0 72.78%,#e8ffe8 0 73.37%,#b8ffb8 0 73.96%,#e0ffe0 0 74.56%,#ffffff 0 75.15%,#f0fff0 0 76.33%,#d0ffd0 0 76.92%,#ffffff 0 77.51%,#f0fff0 0 78.11%,#d0ffd0 0 78.7%,#ffffff 0 79.29%,#b0ffb0 0 79.88%,#e0ffe0 0 81.07%,#ffffff 0 81.66%,#e0ffe0 0 82.25%,#ffffff 0 82.84%,#d0ffd0 0 84.02%,#fff8f8 0 84.62%,#c8ffc8 0 85.21%,#e0ffe0 0 85.8%,#f8fff8 0 86.39%,#e0ffe0 0 86.98%,#e8ffe8 0 87.57%,#ffb0b0 0 88.17%,#fff8f8 0 88.76%,#d0ffd0 0 89.94%,#ffc8c8 0 90.53%,#e0ffe0 0 92.31%,#d0ffd0 0 92.9%,#f8fff8 0 93.49%,#e0ffe0 0 94.08%,#d0ffd0 0 94.67%,#f0fff0 0 95.27%,#c8ffc8 0 95.86%,#fff8f8 0 96.45%,#f8fff8 0 97.04%,#c8ffc8 0 97.63%,#f0fff0 0 98.22%,#ffffff 0 98.82%,#e8ffe8 0 100%)"></div>
<div style="position:absolute;left:407.2px;top:171.94px;width:200.1px;height:50.97px;background:linear-gradient(90deg,#ffe8e8 0 0.59%,#fff0f0 0 1.18%,#ffb8b8 0 1.78%,#fff8f8 0 2.37%,#ffe8e8 0 2.96%,#ffe0e0 0 3.55%,#ffc0c0 0 4.14%,#ffa0a0 0 4.73%,#fff0f0 0 5.33%,#ffd0d0 0 5.92%,#ffc0c0 0 6.51%,#e8ffe8 0 7.1%,#ffa0a0 0 7.69%,#ffd8d8 0 8.88%,#fff8f8 0 9.47%,#ffc8c8 0 10.06%,#ffc0c0 0 10.65%,#ffb8b8 0 11.24%,#ffa0a0 0 11.83%,#e0ffe0 0 12.43%,#ffc8c8 0 13.02%,#ffb8b8 0 13.61%,#ffd8d8 0 14.2%,#ffb8b8 0 14.79%,#ffc0c0 0 15.38%,#ffa0a0 0 16.57%,#ffc8c8 0 17.16%,#ffd0d0 0 17.75%,#d8ffd8 0 18.34%,#c8ffc8 0 18.93%,#ffd0d0 0 19.53%,#f0fff0 0 20.12%,#d8ffd8 0 20.71%,#ffe0e0 0 21.3%,#ffa0a0 0 21.89%,#ffd8d8 0 22.49%,#ffc8c8 0 23.67%,#fff0f0 0 24.26%,#ffb8b8 0 24.85%,#d8ffd8 0 25.44%,#ffb0b0 0 26.04%,#f8fff8 0 26.63%,#fff0f0 0 27.22%,#ffb8b8 0 27.81%,#ffe0e0 0 28.4%,#ff9898 0 28.99%,#ffd8d8 0 29.59%,#ff9090 0 30.18%,#ffc8c8 0 30.77%,#ffffff 0 31.36%,#ffb8b8 0 31.95%,#ffc8c8 0 32.54%,#ffe0e0 0 33.14%,#ffc8c8 0 33.73%,#f0fff0 0 34.32%,#ffd0d0 0 34.91%,#ff8888 0 35.5%,#f0fff0 0 36.09%,#ffb8b8 0 36.69%,#ffa8a8 0 37.28%,#ffe0e0 0 38.46%,#ffa8a8 0 39.05%,#ffb8b8 0 39.64%,#fff8f8 0 40.24%,#ffb0b0 0 40.83%,#ffa0a0 0 41.42%,#ffb8b8 0 42.01%,#fff8f8 0 42.6%,#fff0f0 0 43.2%,#ffe0e0 0 43.79%,#fff0f0 0 44.38%,#e8ffe8 0 44.97%,#ffb8b8 0 45.56%,#f0fff0 0 46.15%,#ffe0e0 0 46.75%,#e8ffe8 0 47.34%,#ffffff 0 47.93%,#ffd8d8 0 48.52%,#e0ffe0 0 49.11%,#f8fff8 0 49.7%,#c8ffc8 0 50.3%,#b8ffb8 0 51.48%,#c0ffc0 0 52.07%,#e0ffe0 0 52.66%,#e8ffe8 0 53.25%,#e0ffe0 0 53.85%,#d8ffd8 0 54.44%,#e0ffe0 0 55.03%,#d0ffd0 0 56.21%,#98ff98 0 56.8%,#e8ffe8 0 57.4%,#f0fff0 0 58.58%,#c8ffc8 0 59.17%,#d0ffd0 0 59.76%,#d8ffd8 0 60.95%,#b0ffb0 0 61.54%,#e0ffe0 0 62.13%,#d0ffd0 0 62.72%,#fff8f8 0 63.31%,#e0ffe0 0 63.91%,#b0ffb0 0 64.5%,#b8ffb8 0 65.68%,#fff8f8 0 66.27%,#d8ffd8 0 66.86%,#c0ffc0 0 67.46%,#b8ffb8 0 68.05%,#e8ffe8 0 68.64%,#e0ffe0 0 69.23%,#e8ffe8 0 69.82%,#f8fff8 0 70.41%,#c0ffc0 0 71.01%,#e0ffe0 0 71.6%,#b0ffb0 0 72.19%,#b8ffb8 0 72.78%,#c0ffc0 0 73.37%,#b0ffb0 0 74.56%,#ffffff 0 75.15%,#d0ffd0 0 75.74%,#b8ffb8 0 76.33%,#b0ffb0 0 76.92%,#d0ffd0 0 77.51%,#fff8f8 0 78.11%,#d0ffd0 0 79.29%,#b8ffb8 0 79.88%,#d8ffd8 0 81.07%,#fff0f0 0 81.66%,#ffffff 0 82.25%,#c0ffc0 0 83.43%,#b8ffb8 0 84.02%,#e0ffe0 0 84.62%,#e8ffe8 0 85.21%,#f8fff8 0 85.8%,#d0ffd0 0 86.39%,#ffffff 0 86.98%,#c8ffc8 0 87.57%,#f0fff0 0 88.17%,#d8ffd8 0 88.76%,#c0ffc0 0 89.35%,#ffffff 0 89.94%,#e0ffe0 0 91.72%,#c0ffc0 0 92.9%,#e8ffe8 0 93.49%,#e0ffe0 0 94.67%,#e8ffe8 0 95.27%,#c8ffc8 0 95.86%,#d0ffd0 0 96.45%,#c8ffc8 0 97.04%,#b8ffb8 0 97.63%,#d8ffd8 0 98.22%,#c0ffc0 0 98.82%,#e0ffe0 0 99.41%,#c8ffc8 0 100%)"></div>
<div style="position:absolute;left:407.2px;top:222.91px;width:200.1px;height:50.97px;background:linear-gradient(90deg,#ffe0e0 0 0.59%,#fff0f0 0 1.18%,#ffe8e8 0 1.78%,#ffe0e0 0 2.37%,#ffb8b8 0 2.96%,#ff9090 0 3.55%,#ff8080 0 4.14%,#ffb8b8 0 4.73%,#ffd8d8 0 5.33%,#f0fff0 0 5.92%,#fff8f8 0 6.51%,#ffd0d0 0 7.69%,#ffe0e0 0 8.28%,#ffc8c8 0 9.47%,#ffd0d0 0 11.24%,#ffe0e0 0 11.83%,#ffd0d0 0 12.43%,#ffb8b8 0 13.02%,#fff0f0 0 14.2%,#ff8888 0 14.79%,#ffc8c8 0 15.38%,#ffd8d8 0 15.98%,#ff8888 0 16.57%,#e8ffe8 0 17.16%,#ffc8c8 0 17.75%,#fff8f8 0 18.34%,#fff0f0 0 18.93%,#ffc0c0 0 19.53%,#ffb0b0 0 20.12%,#fff0f0 0 20.71%,#f8fff8 0 21.3%,#ffe8e8 0 21.89%,#ffd8d8 0 22.49%,#ffa0a0 0 23.08%,#ffd0d0 0 23.67%,#ffb0b0 0 24.85%,#e8ffe8 0 25.44%,#fff0f0 0 26.04%,#ffc0c0 0 26.63%,#fff8f8 0 27.22%,#ffc0c0 0 27.81%,#ffb8b8 0 28.4%,#f8fff8 0 28.99%,#ffd0d0 0 30.18%,#ffc8c8 0 30.77%,#fff8f8 0 31.36%,#ffb0b0 0 31.95%,#fff8f8 0 33.14%,#ffc8c8 0 34.32%,#ffe0e0 0 34.91%,#d8ffd8 0 36.09%,#d0ffd0 0 36.69%,#fff8f8 0 37.28%,#e0ffe0 0 37.87%,#ffa0a0 0 38.46%,#fff0f0 0 39.05%,#f8fff8 0 39.64%,#ffffff 0 40.24%,#ffe0e0 0 40.83%,#ffc0c0 0 41.42%,#ffb0b0 0 42.01%,#ffe0e0 0 43.2%,#fff0f0 0 43.79%,#ffd8d8 0 44.38%,#fff0f0 0 44.97%,#ffd8d8 0 45.56%,#d8ffd8 0 46.75%,#d0ffd0 0 47.34%,#d8ffd8 0 47.93%,#a8ffa8 0 48.52%,#d0ffd0 0 49.11%,#d8ffd8 0 49.7%,#e8ffe8 0 50.3%,#c0ffc0 0 50.89%,#f0fff0 0 51.48%,#b8ffb8 0 52.07%,#d8ffd8 0 53.25%,#e0ffe0 0 54.44%,#ffffff 0 55.03%,#ffe8e8 0 55.62%,#ffffff 0 56.21%,#e8ffe8 0 57.4%,#fff0f0 0 57.99%,#c0ffc0 0 58.58%,#f8fff8 0 59.17%,#fff0f0 0 59.76%,#fff8f8 0 60.36%,#c8ffc8 0 60.95%,#fff8f8 0 61.54%,#a0ffa0 0 62.13%,#c8ffc8 0 62.72%,#e0ffe0 0 63.31%,#e8ffe8 0 63.91%,#e0ffe0 0 64.5%,#d0ffd0 0 65.09%,#ffffff 0 65.68%,#d0ffd0 0 66.27%,#f0fff0 0 66.86%,#e0ffe0 0 67.46%,#d8ffd8 0 68.05%,#d0ffd0 0 68.64%,#ffe8e8 0 69.23%,#d8ffd8 0 69.82%,#f0fff0 0 70.41%,#fff8f8 0 71.01%,#c0ffc0 0 71.6%,#c8ffc8 0 72.19%,#f0fff0 0 73.37%,#e8ffe8 0 73.96%,#fff8f8 0 74.56%,#c8ffc8 0 75.15%,#d0ffd0 0 75.74%,#a0ffa0 0 76.33%,#e0ffe0 0 77.51%,#f0fff0 0 78.11%,#ffffff 0 78.7%,#e0ffe0 0 79.29%,#d8ffd8 0 79.88%,#f8fff8 0 81.66%,#c8ffc8 0 82.25%,#d0ffd0 0 82.84%,#f8fff8 0 83.43%,#e8ffe8 0 84.02%,#f8fff8 0 84.62%,#c0ffc0 0 85.21%,#f0fff0 0 85.8%,#e0ffe0 0 86.39%,#d8ffd8 0 86.98%,#e0ffe0 0 88.17%,#c8ffc8 0 88.76%,#e8ffe8 0 89.94%,#f0fff0 0 90.53%,#e8ffe8 0 91.12%,#c8ffc8 0 91.72%,#ffffff 0 92.31%,#f0fff0 0 92.9%,#d0ffd0 0 93.49%,#e8ffe8 0 94.08%,#c0ffc0 0 94.67%,#d0ffd0 0 95.27%,#e0ffe0 0 95.86%,#f8fff8 0 97.04%,#fff0f0 0 97.63%,#e8ffe8 0 98.22%,#f0fff0 0 98.82%,#e8ffe8 0 99.41%,#f0fff0 0 100%)"></div>
<div style="position:absolute;left:407.2px;top:273.88px;width:200.1px;height:50.97px;background:linear-gradient(90deg,#ffc8c8 0 1.18%,#fff8f8 0 2.96%,#ff9090 0 3.55%,#ffc0c0 0 4.14%,#ffe8e8 0 4.73%,#ffc0c0 0 5.33%,#ffb0b0 0 5.92%,#ffe8e8 0 7.69%,#ffffff 0 8.28%,#ffc8c8 0 8.88%,#ff9898 0 10.06%,#f0fff0 0 10.65%,#ff8888 0 11.24%,#f8fff8 0 11.83%,#ff9898 0 12.43%,#ffa0a0 0 13.02%,#ffc8c8 0 13.61%,#ffd0d0 0 14.2%,#f8fff8 0 14.79%,#ffd8d8 0 15.38%,#f8fff8 0 15.98%,#ffe8e8 0 16.57%,#ffa0a0 0 17.16%,#ffb8b8 0 17.75%,#ffffff 0 18.34%,#ffb8b8 0 18.93%,#ffd8d8 0 19.53%,#d8ffd8 0 20.12%,#ffa0a0 0 20.71%,#ffe8e8 0 21.3%,#ffc0c0 0 21.89%,#fff8f8 0 23.08%,#ffb8b8 0 23.67%,#ff8888 0 24.26%,#d8ffd8 0 24.85%,#ffe8e8 0 25.44%,#f8fff8 0 26.04%,#ffb8b8 0 26.63%,#fff8f8 0 27.22%,#ffc8c8 0 28.99%,#ffb8b8 0 29.59%,#fff0f0 0 30.77%,#ff8080 0 31.36%,#ffd8d8 0 31.95%,#f8fff8 0 32.54%,#ffa8a8 0 33.14%,#ffc0c0 0 33.73%,#fff0f0 0 34.32%,#ffe8e8 0 34.91%,#ffc8c8 0 35.5%,#ffe0e0 0 36.09%,#ffe8e8 0 36.69%,#ffa0a0 0 37.28%,#ffb0b0 0 37.87%,#ffe0e0 0 38.46%,#ffb0b0 0 39.05%,#fff0f0 0 39.64%,#ffa0a0 0 40.83%,#ffffff 0 41.42%,#ffd8d8 0 42.01%,#ffe8e8 0 42.6%,#ffffff 0 43.79%,#ffd8d8 0 44.38%,#ffc8c8 0 44.97%,#ffd0d0 0 45.56%,#d8ffd8 0 46.15%,#f8fff8 0 47.34%,#f0fff0 0 47.93%,#d8ffd8 0 49.11%,#fff0f0 0 49.7%,#d8ffd8 0 50.3%,#fff0f0 0 50.89%,#ffffff 0 51.48%,#d0ffd0 0 52.07%,#e0ffe0 0 52.66%,#ffe8e8 0 53.25%,#f8fff8 0 53.85%,#f0fff0 0 54.44%,#e0ffe0 0 55.03%,#b0ffb0 0 55.62%,#d0ffd0 0 56.21%,#fff8f8 0 56.8%,#d8ffd8 0 57.4%,#c8ffc8 0 57.99%,#d0ffd0 0 58.58%,#e0ffe0 0 59.17%,#c0ffc0 0 59.76%,#e0ffe0 0 60.36%,#d0ffd0 0 60.95%,#ff9090 0 62.13%,#ffffff 0 63.31%,#e0ffe0 0 63.91%,#e8ffe8 0 64.5%,#ffffff 0 65.09%,#e8ffe8 0 65.68%,#e0ffe0 0 66.27%,#c8ffc8 0 66.86%,#e0ffe0 0 67.46%,#c0ffc0 0 68.05%,#fff8f8 0 68.64%,#e8ffe8 0 69.23%,#f0fff0 0 69.82%,#c0ffc0 0 70.41%,#e8ffe8 0 71.01%,#ffffff 0 71.6%,#e8ffe8 0 72.19%,#d8ffd8 0 72.78%,#98ff98 0 73.37%,#f0fff0 0 73.96%,#ffe8e8 0 74.56%,#f0fff0 0 75.15%,#c8ffc8 0 75.74%,#a8ffa8 0 76.33%,#f0fff0 0 76.92%,#ffffff 0 77.51%,#a8ffa8 0 78.11%,#f8fff8 0 78.7%,#e0ffe0 0 79.88%,#d8ffd8 0 80.47%,#e0ffe0 0 81.07%,#d8ffd8 0 81.66%,#e8ffe8 0 82.25%,#ffffff 0 82.84%,#ffe8e8 0 83.43%,#e8ffe8 0 84.02%,#d8ffd8 0 84.62%,#e0ffe0 0 85.8%,#fff0f0 0 86.98%,#e8ffe8 0 87.57%,#ff9090 0 88.17%,#fff8f8 0 88.76%,#b8ffb8 0 89.35%,#e0ffe0 0 89.94%,#e8ffe8 0 91.12%,#b8ffb8 0 91.72%,#c0ffc0 0 92.9%,#d0ffd0 0 93.49%,#d8ffd8 0 94.08%,#d0ffd0 0 94.67%,#e0ffe0 0 95.27%,#ffffff 0 95.86%,#c8ffc8 0 96.45%,#f8fff8 0 97.04%,#c0ffc0 0 97.63%,#f8fff8 0 98.22%,#d0ffd0 0 98.82%,#b0ffb0 0 99.41%,#e8ffe8 0 100%)"></div>
<div style="position:absolute;left:407.2px;top:324.85px;width:200.1px;height:50.97px;background:linear-gradient(90deg,#ff9898 0 0.59%,#ffc0c0 0 1.18%,#ffb0b0 0 1.78%,#ffc8c8 0 2.37%,#ff9898 0 2.96%,#ffe8e8 0 3.55%,#f8fff8 0 4.14%,#fff0f0 0 4.73%,#f0fff0 0 5.33%,#ffd0d0 0 5.92%,#ffc8c8 0 6.51%,#ffd8d8 0 7.69%,#ffa0a0 0 8.28%,#ffb0b0 0 9.47%,#e0ffe0 0 10.06%,#ffd0d0 0 10.65%,#ffd8d8 0 11.24%,#ffe0e0 0 11.83%,#ffffff 0 12.43%,#ffd8d8 0 13.02%,#ffd0d0 0 13.61%,#ffc0c0 0 14.2%,#ffb8b8 0 14.79%,#ffffff 0 15.38%,#fff8f8 0 15.98%,#ffe8e8 0 16.57%,#ffb8b8 0 17.75%,#ffc0c0 0 18.34%,#fff8f8 0 18.93%,#ffd8d8 0 19.53%,#ffe0e0 0 20.12%,#ffe8e8 0 20.71%,#ffc8c8 0 21.3%,#e8ffe8 0 21.89%,#ffffff 0 22.49%,#ff9090 0 23.08%,#ffa0a0 0 23.67%,#ffc0c0 0 24.26%,#ffc8c8 0 24.85%,#ffd0d0 0 25.44%,#ffe0e0 0 26.04%,#ffc8c8 0 26.63%,#ffd8d8 0 27.22%,#f0fff0 0 27.81%,#ffc8c8 0 28.4%,#ff9898 0 28.99%,#ffc0c0 0 29.59%,#fff0f0 0 31.36%,#fff8f8 0 31.95%,#f8fff8 0 32.54%,#ffc8c8 0 33.14%,#fff8f8 0 34.32%,#ffb0b0 0 34.91%,#fff0f0 0 35.5%,#ff9898 0 36.09%,#fff8f8 0 36.69%,#ffffff 0 37.28%,#ff9898 0 37.87%,#ffb8b8 0 38.46%,#ffd0d0 0 39.05%,#ffe0e0 0 39.64%,#ffe8e8 0 40.24%,#ffc8c8 0 40.83%,#ffd8d8 0 41.42%,#ff9898 0 42.01%,#fff8f8 0 42.6%,#ffd0d0 0 43.2%,#f8fff8 0 43.79%,#ffe0e0 0 44.38%,#ff9090 0 44.97%,#ffffff 0 45.56%,#fff0f0 0 46.15%,#fff8f8 0 46.75%,#d8ffd8 0 47.34%,#fff0f0 0 47.93%,#e8ffe8 0 49.11%,#f0fff0 0 49.7%,#d0ffd0 0 50.3%,#d8ffd8 0 50.89%,#f0fff0 0 51.48%,#d8ffd8 0 52.07%,#e8ffe8 0 53.25%,#e0ffe0 0 53.85%,#d8ffd8 0 54.44%,#d0ffd0 0 55.03%,#c0ffc0 0 55.62%,#fff8f8 0 56.21%,#c0ffc0 0 56.8%,#e0ffe0 0 57.4%,#c0ffc0 0 57.99%,#b8ffb8 0 58.58%,#e8ffe8 0 59.17%,#ffffff 0 59.76%,#d8ffd8 0 60.95%,#fff8f8 0 61.54%,#e0ffe0 0 62.13%,#d0ffd0 0 62.72%,#b0ffb0 0 63.31%,#d0ffd0 0 64.5%,#ffffff 0 65.09%,#c8ffc8 0 65.68%,#e0ffe0 0 66.27%,#d0ffd0 0 66.86%,#f0fff0 0 67.46%,#c8ffc8 0 68.64%,#f8fff8 0 69.23%,#d0ffd0 0 69.82%,#a8ffa8 0 70.41%,#e0ffe0 0 71.01%,#d8ffd8 0 71.6%,#b8ffb8 0 72.19%,#f0fff0 0 72.78%,#f8fff8 0 73.37%,#ffffff 0 73.96%,#d0ffd0 0 74.56%,#f8fff8 0 75.15%,#c8ffc8 0 75.74%,#fff8f8 0 76.33%,#f0fff0 0 76.92%,#e8ffe8 0 77.51%,#f0fff0 0 78.11%,#e0ffe0 0 79.29%,#ffe0e0 0 79.88%,#e8ffe8 0 80.47%,#b8ffb8 0 81.07%,#d0ffd0 0 81.66%,#b8ffb8 0 82.25%,#c8ffc8 0 82.84%,#d0ffd0 0 83.43%,#b8ffb8 0 84.02%,#c0ffc0 0 84.62%,#fff8f8 0 85.21%,#b8ffb8 0 85.8%,#c8ffc8 0 86.39%,#c0ffc0 0 86.98%,#c8ffc8 0 87.57%,#a0ffa0 0 88.17%,#b0ffb0 0 88.76%,#a8ffa8 0 89.35%,#d0ffd0 0 89.94%,#ffffff 0 90.53%,#f8fff8 0 91.12%,#90ff90 0 91.72%,#b0ffb0 0 92.31%,#c0ffc0 0 92.9%,#b8ffb8 0 93.49%,#d8ffd8 0 94.08%,#c8ffc8 0 94.67%,#b8ffb8 0 95.27%,#e0ffe0 0 95.86%,#d0ffd0 0 96.45%,#f8fff8 0 97.04%,#f0fff0 0 97.63%,#b8ffb8 0 98.22%,#fff8f8 0 98.82%,#fff0f0 0 99.41%,#c0ffc0 0 100%)"></div>
<div style="position:absolute;left:407.2px;top:54.6px;width:200.1px;height:6.1px;background:linear-gradient(90deg,#00d8e0 0 45.56%,#e09cf8 0)"></div>
<div style="position:absolute;left:407.2px;top:62.1px;width:200.1px;height:6px;background:linear-gradient(90deg,#99c800 0 14.79%,#f4a080 0 15.38%,#99c800 0 17.75%,#f4a080 0 18.34%,#99c800 0 37.28%,#f4a080 0 37.87%,#99c800 0 39.05%,#f4a080 0 39.64%,#99c800 0 43.79%,#f4a080 0 44.38%,#99c800 0 85.8%,#f4a080 0 86.39%,#99c800 0 100%)"></div>
<svg width="685" height="689" viewBox="0 0 685 689">
<text x="0" y="22.2" font-size="19.5" stroke="#000" stroke-width="0.35">A</text>
<text x="335.8" y="22.2" font-size="19.5" stroke="#000" stroke-width="0.35">B</text>
<text x="-0.3" y="411.9" font-size="19.5" stroke="#000" stroke-width="0.35">C</text>
<text x="335.6" y="411.9" font-size="19.5" stroke="#000" stroke-width="0.35">D</text>
<text x="40.6" y="5.9" font-size="7.9">N=345</text>
<text x="407" y="50.8" font-size="7.9">N=169</text>
<path d="M40.3 350.33H17.9V299.37H40.3M17.9 324.85H15.1M40.3 248.39H15.1V324.85M15.1 286.62H12.1M40.3 197.43H12.1V286.62M12.1 242.02H7.2M40.3 146.45H7.2V242.02M7.2 194.24H1.5M40.3 95.48H1.5V194.24" fill="none" stroke="#222" stroke-width="1.05"/>
<path d="M407.2 350.33H384.9V299.37H407.2M384.9 324.85H382.3M407.2 248.39H382.3V324.85M382.3 286.62H379.4M407.2 197.43H379.4V286.62M379.4 242.02H374.6M407.2 146.45H374.6V242.02M374.6 194.24H369.1M407.2 95.48H369.1V194.24" fill="none" stroke="#222" stroke-width="1.05"/>
<text x="230.1" y="98.08" font-size="5.8" fill="#222">EMP1</text>
<text x="609.3" y="98.08" font-size="5.8" fill="#222">EMP1</text>
<text x="230.1" y="149.05" font-size="5.8" fill="#222">FGFR1</text>
<text x="609.3" y="149.05" font-size="5.8" fill="#222">FGFR1</text>
<text x="230.1" y="200.03" font-size="5.8" fill="#222">LATS2</text>
<text x="609.3" y="200.03" font-size="5.8" fill="#222">LATS2</text>
<text x="230.1" y="250.99" font-size="5.8" fill="#222">TPM1</text>
<text x="609.3" y="250.99" font-size="5.8" fill="#222">TPM1</text>
<text x="230.1" y="301.97" font-size="5.8" fill="#222">NRP2</text>
<text x="609.3" y="301.97" font-size="5.8" fill="#222">NRP2</text>
<text x="230.1" y="352.94" font-size="5.8" fill="#222">CAVIN1</text>
<text x="609.3" y="352.94" font-size="5.8" fill="#222">CAVIN1</text>
<text x="230.1" y="15.5" font-size="5.9" font-weight="bold" fill="#111">Cluster</text>
<text x="230.1" y="22.9" font-size="5.9" font-weight="bold" fill="#111">N**</text>
<text x="230.1" y="30.3" font-size="5.9" font-weight="bold" fill="#111">T***</text>
<text x="230.1" y="37.7" font-size="5.9" font-weight="bold" fill="#111">stage***</text>
<text x="230.1" y="45.1" font-size="5.9" font-weight="bold" fill="#111">grade***</text>
<text x="230.1" y="52.5" font-size="5.9" font-weight="bold" fill="#111">gender</text>
<text x="230.1" y="59.9" font-size="5.9" font-weight="bold" fill="#111">age</text>
<text x="230.1" y="67.3" font-size="5.9" font-weight="bold" fill="#111">status***</text>
<text x="609.3" y="59.9" font-size="5.9" font-weight="bold" fill="#111">Cluster</text>
<text x="609.3" y="67.5" font-size="5.9" font-weight="bold" fill="#111">M</text>
<defs><linearGradient id="cb" x1="0" y1="0" x2="0" y2="1"><stop offset="0" stop-color="#ff0000"/><stop offset="0.5" stop-color="#ffffff"/><stop offset="1" stop-color="#00ff00"/></linearGradient></defs>
<rect x="257" y="9.1" width="7.9" height="111.7" fill="url(#cb)"/>
<rect x="635.2" y="53.7" width="7.9" height="111.3" fill="url(#cb)"/>
<text x="267.8" y="28.3" font-size="5.9" fill="#222">4</text>
<text x="267.8" y="47.7" font-size="5.9" fill="#222">2</text>
<text x="267.8" y="67.2" font-size="5.9" fill="#222">0</text>
<text x="267.8" y="87" font-size="5.9" fill="#222">−2</text>
<text x="267.8" y="106.7" font-size="5.9" fill="#222">−4</text>
<text x="646" y="62.3" font-size="5.9" fill="#222">4</text>
<text x="646" y="87.1" font-size="5.9" fill="#222">2</text>
<text x="646" y="111.9" font-size="5.9" fill="#222">0</text>
<text x="646" y="136.8" font-size="5.9" fill="#222">−2</text>
<text x="646" y="161.7" font-size="5.9" fill="#222">−4</text>
<text x="274.9" y="14.6" font-size="5.8" font-weight="bold" fill="#111">Cluster</text>
<rect x="274.9" y="16" width="9" height="8.6" fill="#fd9a64"/>
<text x="285.1" y="22.38" font-size="5.8" fill="#222">cluster1</text>
<rect x="274.9" y="24.55" width="9" height="8.6" fill="#00d46c"/>
<text x="285.1" y="30.93" font-size="5.8" fill="#222">cluster2</text>
<text x="274.9" y="44.8" font-size="5.8" font-weight="bold" fill="#111">N**</text>
<rect x="274.9" y="45.5" width="9" height="8.65" fill="#ff80f8"/>
<text x="285.1" y="51.9" font-size="5.8" fill="#222">N0</text>
<rect x="274.9" y="54.1" width="9" height="8.65" fill="#80c400"/>
<text x="285.1" y="60.5" font-size="5.8" fill="#222">N1</text>
<rect x="274.9" y="62.7" width="9" height="8.65" fill="#ff80a8"/>
<text x="285.1" y="69.1" font-size="5.8" fill="#222">N2</text>
<rect x="274.9" y="71.3" width="9" height="8.65" fill="#00d8e4"/>
<text x="285.1" y="77.7" font-size="5.8" fill="#222">N3</text>
<text x="274.9" y="91" font-size="5.8" font-weight="bold" fill="#111">T***</text>
<rect x="274.9" y="92.8" width="9" height="8.6" fill="#c8b400"/>
<text x="285.1" y="99.17" font-size="5.8" fill="#222">T0</text>
<rect x="274.9" y="101.35" width="9" height="8.6" fill="#cc99ff"/>
<text x="285.1" y="107.72" font-size="5.8" fill="#222">T1</text>
<rect x="274.9" y="109.9" width="9" height="8.6" fill="#00d8bc"/>
<text x="285.1" y="116.28" font-size="5.8" fill="#222">T2</text>
<rect x="274.9" y="118.45" width="9" height="8.6" fill="#ff78dc"/>
<text x="285.1" y="124.83" font-size="5.8" fill="#222">T3</text>
<rect x="274.9" y="127" width="9" height="8.6" fill="#00d8f4"/>
<text x="285.1" y="133.38" font-size="5.8" fill="#222">T4</text>
<text x="274.9" y="146.5" font-size="5.8" font-weight="bold" fill="#111">stage***</text>
<rect x="274.9" y="147.9" width="9" height="8.55" fill="#1ed8a4"/>
<text x="285.1" y="154.25" font-size="5.8" fill="#222">Stage I</text>
<rect x="274.9" y="156.4" width="9" height="8.55" fill="#ff66ee"/>
<text x="285.1" y="162.75" font-size="5.8" fill="#222">Stage II</text>
<rect x="274.9" y="164.9" width="9" height="8.55" fill="#e89cff"/>
<text x="285.1" y="171.25" font-size="5.8" fill="#222">Stage III</text>
<rect x="274.9" y="173.4" width="9" height="8.55" fill="#ffa030"/>
<text x="285.1" y="179.75" font-size="5.8" fill="#222">Stage IV</text>
<text x="274.9" y="193.6" font-size="5.8" font-weight="bold" fill="#111">grade***</text>
<rect x="274.9" y="194.6" width="9" height="8.7" fill="#dab000"/>
<text x="285.1" y="201.02" font-size="5.8" fill="#222">High Grade</text>
<rect x="274.9" y="203.25" width="9" height="8.7" fill="#ff80c8"/>
<text x="285.1" y="209.67" font-size="5.8" fill="#222">Low Grade</text>
<text x="274.9" y="223.4" font-size="5.8" font-weight="bold" fill="#111">gender</text>
<rect x="274.9" y="224.4" width="9" height="8.7" fill="#68b8ff"/>
<text x="285.1" y="230.82" font-size="5.8" fill="#222">FEMALE</text>
<rect x="274.9" y="233.05" width="9" height="8.7" fill="#a8a8ff"/>
<text x="285.1" y="239.47" font-size="5.8" fill="#222">MALE</text>
<text x="274.9" y="252.9" font-size="5.8" font-weight="bold" fill="#111">age</text>
<rect x="274.9" y="254" width="9" height="8.65" fill="#e8a800"/>
<text x="285.1" y="260.4" font-size="5.8" fill="#222"><=50</text>
<rect x="274.9" y="262.6" width="9" height="8.65" fill="#1ed68c"/>
<text x="285.1" y="269" font-size="5.8" fill="#222">>80</text>
<rect x="274.9" y="271.2" width="9" height="8.65" fill="#a8c000"/>
<text x="285.1" y="277.6" font-size="5.8" fill="#222">50~60</text>
<rect x="274.9" y="279.8" width="9" height="8.65" fill="#00c8ff"/>
<text x="285.1" y="286.2" font-size="5.8" fill="#222">60~70</text>
<rect x="274.9" y="288.4" width="9" height="8.65" fill="#00c8ff"/>
<text x="285.1" y="294.8" font-size="5.8" fill="#222">70~80</text>
<text x="274.9" y="308.5" font-size="5.8" font-weight="bold" fill="#111">status***</text>
<rect x="274.9" y="309.9" width="9" height="8.55" fill="#ff8a80"/>
<text x="285.1" y="316.25" font-size="5.8" fill="#222">Alive</text>
<rect x="274.9" y="318.4" width="9" height="8.55" fill="#4cd444"/>
<text x="285.1" y="324.75" font-size="5.8" fill="#222">Dead</text>
<text x="653.2" y="59.2" font-size="5.8" font-weight="bold" fill="#111">Cluster</text>
<rect x="653.2" y="60.1" width="8.8" height="8.9" fill="#00d8e0"/>
<text x="663.2" y="66.62" font-size="5.8" fill="#222">cluster1</text>
<rect x="653.2" y="68.95" width="8.8" height="8.9" fill="#e09cf8"/>
<text x="663.2" y="75.47" font-size="5.8" fill="#222">cluster2</text>
<text x="653.2" y="88.8" font-size="5.8" font-weight="bold" fill="#111">M</text>
<rect x="653.2" y="90.1" width="8.8" height="8.75" fill="#99c800"/>
<text x="663.2" y="96.55" font-size="5.8" fill="#222">M0</text>
<rect x="653.2" y="98.8" width="8.8" height="8.75" fill="#ff9a8a"/>
<text x="663.2" y="105.25" font-size="5.8" fill="#222">M1</text>
<rect x="44.8" y="425" width="262" height="220.8" fill="none" stroke="#111" stroke-width="1.2"/>
<path d="M39.7 640.1H44.8" stroke="#333" stroke-width="0.9"/>
<text x="35" y="643" font-size="8" text-anchor="end" fill="#111">0</text>
<path d="M39.7 599.28H44.8" stroke="#333" stroke-width="0.9"/>
<text x="35" y="602.18" font-size="8" text-anchor="end" fill="#111">2</text>
<path d="M39.7 558.46H44.8" stroke="#333" stroke-width="0.9"/>
<text x="35" y="561.36" font-size="8" text-anchor="end" fill="#111">4</text>
<path d="M39.7 517.64H44.8" stroke="#333" stroke-width="0.9"/>
<text x="35" y="520.54" font-size="8" text-anchor="end" fill="#111">6</text>
<path d="M39.7 476.82H44.8" stroke="#333" stroke-width="0.9"/>
<text x="35" y="479.72" font-size="8" text-anchor="end" fill="#111">8</text>
<path d="M39.7 436H44.8" stroke="#333" stroke-width="0.9"/>
<text x="35" y="438.9" font-size="8" text-anchor="end" fill="#111">10</text>
<text x="14.2" y="535.5" font-size="11.8" text-anchor="middle" fill="#111" transform="rotate(-90 14.2 535.5)">Gene expression</text>
<path d="M55.5 481.9 56.16 484.93 56.31 487.96 56.47 490.98 56.66 494.01 56.87 497.04 57.1 500.07 57.36 503.1 57.64 506.13 57.94 509.15 58.26 512.18 58.59 515.21 58.94 518.24 59.29 521.27 59.63 524.29 59.97 527.32 60.29 530.35 60.59 533.38 60.87 536.41 61.1 539.44 61.3 542.46 61.45 545.49 61.55 548.52 61.6 551.55 61.58 554.58 61.44 557.61 61.2 560.63 60.86 563.66 60.44 566.69 59.96 569.72 59.45 572.75 58.93 575.77 58.42 578.8 57.94 581.83 57.49 584.86 57.1 587.89 56.76 590.92 56.47 593.94 56.23 596.97 55.5 600 55.5 600 54.77 596.97 54.53 593.94 54.24 590.92 53.9 587.89 53.51 584.86 53.06 581.83 52.58 578.8 52.07 575.77 51.55 572.75 51.04 569.72 50.56 566.69 50.14 563.66 49.8 560.63 49.56 557.61 49.42 554.58 49.4 551.55 49.45 548.52 49.55 545.49 49.7 542.46 49.9 539.44 50.13 536.41 50.41 533.38 50.71 530.35 51.03 527.32 51.37 524.29 51.71 521.27 52.06 518.24 52.41 515.21 52.74 512.18 53.06 509.15 53.36 506.13 53.64 503.1 53.9 500.07 54.13 497.04 54.34 494.01 54.53 490.98 54.69 487.96 54.84 484.93 55.5 481.9Z" fill="#ff0000" stroke="#000" stroke-width="0.55"/>
<path d="M55.5 481.9V600" stroke="#000" stroke-width="0.7"/>
<rect x="54.75" y="536" width="1.5" height="29.2" fill="#000"/>
<circle cx="55.5" cy="552.2" r="1.5" fill="#fff"/>
<path d="M70.4 521.5 71.01 524.04 71.22 526.58 71.39 529.12 71.57 531.65 71.78 534.19 72.01 536.73 72.27 539.27 72.54 541.81 72.84 544.35 73.16 546.88 73.49 549.42 73.83 551.96 74.18 554.5 74.52 557.04 74.87 559.58 75.2 562.12 75.51 564.65 75.8 567.19 76.06 569.73 76.28 572.27 76.46 574.81 76.59 577.35 76.67 579.88 76.7 582.42 76.64 584.96 76.45 587.5 76.14 590.04 75.73 592.58 75.24 595.12 74.7 597.65 74.14 600.19 73.58 602.73 73.05 605.27 72.56 607.81 72.12 610.35 71.74 612.88 71.43 615.42 71.08 617.96 70.4 620.5 70.4 620.5 69.72 617.96 69.37 615.42 69.06 612.88 68.68 610.35 68.24 607.81 67.75 605.27 67.22 602.73 66.66 600.19 66.1 597.65 65.56 595.12 65.07 592.58 64.66 590.04 64.35 587.5 64.16 584.96 64.1 582.42 64.13 579.88 64.21 577.35 64.34 574.81 64.52 572.27 64.74 569.73 65 567.19 65.29 564.65 65.6 562.12 65.93 559.58 66.28 557.04 66.62 554.5 66.97 551.96 67.31 549.42 67.64 546.88 67.96 544.35 68.26 541.81 68.53 539.27 68.79 536.73 69.02 534.19 69.23 531.65 69.41 529.12 69.58 526.58 69.79 524.04 70.4 521.5Z" fill="#00ffff" stroke="#000" stroke-width="0.55"/>
<path d="M70.4 521.5V620.5" stroke="#000" stroke-width="0.7"/>
<rect x="69.65" y="568.5" width="1.5" height="27.1" fill="#000"/>
<circle cx="70.4" cy="583" r="1.5" fill="#fff"/>
<path d="M100.6 497 100.79 499.53 100.9 502.06 101.01 504.59 101.14 507.12 101.31 509.65 101.51 512.18 101.76 514.72 102.04 517.25 102.37 519.78 102.74 522.31 103.15 524.84 103.59 527.37 104.04 529.9 104.5 532.43 104.95 534.96 105.38 537.49 105.76 540.02 106.09 542.55 106.34 545.08 106.51 547.62 106.59 550.15 106.58 552.68 106.47 555.21 106.28 557.74 106.01 560.27 105.67 562.8 105.28 565.33 104.85 567.86 104.4 570.39 103.95 572.92 103.51 575.45 103.08 577.98 102.69 580.52 102.33 583.05 102.01 585.58 101.73 588.11 101.49 590.64 101.22 593.17 100.6 595.7 100.6 595.7 99.98 593.17 99.71 590.64 99.47 588.11 99.19 585.58 98.87 583.05 98.51 580.52 98.12 577.98 97.69 575.45 97.25 572.92 96.8 570.39 96.35 567.86 95.92 565.33 95.53 562.8 95.19 560.27 94.92 557.74 94.73 555.21 94.62 552.68 94.61 550.15 94.69 547.62 94.86 545.08 95.11 542.55 95.44 540.02 95.82 537.49 96.25 534.96 96.7 532.43 97.16 529.9 97.61 527.37 98.05 524.84 98.46 522.31 98.83 519.78 99.16 517.25 99.44 514.72 99.69 512.18 99.89 509.65 100.06 507.12 100.19 504.59 100.3 502.06 100.41 499.53 100.6 497Z" fill="#ff0000" stroke="#000" stroke-width="0.55"/>
<path d="M100.6 480.9V595.7" stroke="#000" stroke-width="0.7"/>
<rect x="99.85" y="540.37" width="1.5" height="25.16" fill="#000"/>
<circle cx="100.6" cy="552.6" r="1.5" fill="#fff"/>
<path d="M115.4 534.8 115.72 536.69 115.94 538.59 116.06 540.48 116.21 542.38 116.37 544.27 116.55 546.17 116.76 548.06 117 549.96 117.26 551.85 117.54 553.75 117.84 555.64 118.16 557.54 118.5 559.43 118.85 561.33 119.2 563.22 119.56 565.12 119.9 567.01 120.24 568.91 120.56 570.8 120.85 572.7 121.1 574.59 121.32 576.49 121.49 578.38 121.61 580.28 121.68 582.17 121.7 584.07 121.58 585.96 121.29 587.86 120.87 589.75 120.33 591.65 119.73 593.54 119.1 595.44 118.47 597.33 117.88 599.23 117.35 601.12 116.89 603.02 116.5 604.91 115.98 606.81 115.4 608.7 115.4 608.7 114.82 606.81 114.3 604.91 113.91 603.02 113.45 601.12 112.92 599.23 112.33 597.33 111.7 595.44 111.07 593.54 110.47 591.65 109.93 589.75 109.51 587.86 109.22 585.96 109.1 584.07 109.12 582.17 109.19 580.28 109.31 578.38 109.48 576.49 109.7 574.59 109.95 572.7 110.24 570.8 110.56 568.91 110.9 567.01 111.24 565.12 111.6 563.22 111.95 561.33 112.3 559.43 112.64 557.54 112.96 555.64 113.26 553.75 113.54 551.85 113.8 549.96 114.04 548.06 114.25 546.17 114.43 544.27 114.59 542.38 114.74 540.48 114.86 538.59 115.08 536.69 115.4 534.8Z" fill="#00ffff" stroke="#000" stroke-width="0.55"/>
<path d="M115.4 534.8V608.7" stroke="#000" stroke-width="0.7"/>
<rect x="114.65" y="572.4" width="1.5" height="18.31" fill="#000"/>
<circle cx="115.4" cy="583" r="1.5" fill="#fff"/>
<path d="M145.6 536.7 145.84 539.11 145.96 541.51 146.07 543.92 146.2 546.32 146.36 548.73 146.55 551.13 146.78 553.54 147.03 555.94 147.32 558.35 147.65 560.75 148 563.16 148.38 565.56 148.78 567.97 149.2 570.37 149.61 572.78 150.02 575.18 150.4 577.59 150.76 579.99 151.07 582.4 151.33 584.8 151.52 587.21 151.65 589.61 151.7 592.02 151.66 594.42 151.5 596.83 151.24 599.23 150.89 601.64 150.47 604.04 149.99 606.45 149.48 608.85 148.97 611.26 148.47 613.66 148 616.07 147.56 618.47 147.18 620.88 146.84 623.28 146.56 625.69 146.22 628.09 145.6 630.5 145.6 630.5 144.98 628.09 144.64 625.69 144.36 623.28 144.02 620.88 143.64 618.47 143.2 616.07 142.73 613.66 142.23 611.26 141.72 608.85 141.21 606.45 140.73 604.04 140.31 601.64 139.96 599.23 139.7 596.83 139.54 594.42 139.5 592.02 139.55 589.61 139.68 587.21 139.87 584.8 140.13 582.4 140.44 579.99 140.8 577.59 141.18 575.18 141.59 572.78 142 570.37 142.42 567.97 142.82 565.56 143.2 563.16 143.55 560.75 143.88 558.35 144.17 555.94 144.42 553.54 144.65 551.13 144.84 548.73 145 546.32 145.13 543.92 145.24 541.51 145.36 539.11 145.6 536.7Z" fill="#ff0000" stroke="#000" stroke-width="0.55"/>
<path d="M145.6 536.7V630.5" stroke="#000" stroke-width="0.7"/>
<rect x="144.85" y="580.54" width="1.5" height="23.64" fill="#000"/>
<circle cx="145.6" cy="592.9" r="1.5" fill="#fff"/>
<path d="M160.9 590 161.08 591.23 161.26 592.46 161.39 593.69 161.49 594.92 161.6 596.15 161.72 597.38 161.87 598.62 162.03 599.85 162.2 601.08 162.4 602.31 162.61 603.54 162.84 604.77 163.09 606 163.36 607.23 163.64 608.46 163.93 609.69 164.22 610.92 164.53 612.15 164.84 613.38 165.14 614.62 165.44 615.85 165.73 617.08 166.01 618.31 166.26 619.54 166.5 620.77 166.7 622 166.88 623.23 167.01 624.46 167.12 625.69 167.18 626.92 167.2 628.15 167.15 629.38 167.01 630.62 166.78 631.85 166.47 633.08 166.09 634.31 165.04 635.54 163.2 636.77 160.9 638 160.9 638 158.6 636.77 156.76 635.54 155.71 634.31 155.33 633.08 155.02 631.85 154.79 630.62 154.65 629.38 154.6 628.15 154.62 626.92 154.68 625.69 154.79 624.46 154.92 623.23 155.1 622 155.3 620.77 155.54 619.54 155.79 618.31 156.07 617.08 156.36 615.85 156.66 614.62 156.96 613.38 157.27 612.15 157.58 610.92 157.87 609.69 158.16 608.46 158.44 607.23 158.71 606 158.96 604.77 159.19 603.54 159.4 602.31 159.6 601.08 159.77 599.85 159.93 598.62 160.08 597.38 160.2 596.15 160.31 594.92 160.41 593.69 160.54 592.46 160.72 591.23 160.9 590Z" fill="#00ffff" stroke="#000" stroke-width="0.55"/>
<path d="M160.9 563.1V638" stroke="#000" stroke-width="0.7"/>
<rect x="160.15" y="616.52" width="1.5" height="11.68" fill="#000"/>
<circle cx="160.9" cy="624" r="1.5" fill="#fff"/>
<path d="M190.4 522 190.51 524.92 190.55 527.83 190.6 530.75 190.67 533.66 190.77 536.58 190.88 539.49 191.02 542.41 191.19 545.32 191.4 548.24 191.65 551.15 191.93 554.07 192.26 556.98 192.63 559.9 193.03 562.82 193.47 565.73 193.93 568.65 194.4 571.56 194.88 574.48 195.36 577.39 195.81 580.31 196.22 583.22 196.58 586.14 196.88 589.05 197.11 591.97 197.25 594.88 197.3 597.8 197.21 600.72 196.94 603.63 196.49 606.55 195.92 609.46 195.25 612.38 194.55 615.29 193.84 618.21 193.18 621.12 192.58 624.04 192.06 626.95 191.62 629.87 191.26 632.78 190.4 635.7 190.4 635.7 189.54 632.78 189.18 629.87 188.74 626.95 188.22 624.04 187.62 621.12 186.96 618.21 186.25 615.29 185.55 612.38 184.88 609.46 184.31 606.55 183.86 603.63 183.59 600.72 183.5 597.8 183.55 594.88 183.69 591.97 183.92 589.05 184.22 586.14 184.58 583.22 184.99 580.31 185.44 577.39 185.92 574.48 186.4 571.56 186.87 568.65 187.33 565.73 187.77 562.82 188.17 559.9 188.54 556.98 188.87 554.07 189.15 551.15 189.4 548.24 189.61 545.32 189.78 542.41 189.92 539.49 190.03 536.58 190.13 533.66 190.2 530.75 190.25 527.83 190.29 524.92 190.4 522Z" fill="#ff0000" stroke="#000" stroke-width="0.55"/>
<path d="M190.4 510.2V635.7" stroke="#000" stroke-width="0.7"/>
<rect x="189.65" y="580.5" width="1.5" height="28.11" fill="#000"/>
<circle cx="190.4" cy="597" r="1.5" fill="#fff"/>
<path d="M205.6 572 205.8 573.68 205.97 575.36 206.05 577.05 206.16 578.73 206.28 580.41 206.42 582.09 206.58 583.77 206.77 585.46 206.97 587.14 207.21 588.82 207.46 590.5 207.74 592.18 208.05 593.87 208.37 595.55 208.71 597.23 209.07 598.91 209.44 600.59 209.81 602.28 210.18 603.96 210.55 605.64 210.9 607.32 211.23 609.01 211.54 610.69 211.81 612.37 212.05 614.05 212.24 615.73 212.38 617.42 212.46 619.1 212.5 620.78 212.46 622.46 212.32 624.14 212.09 625.83 211.78 627.51 211.39 629.19 210.95 630.87 210.47 632.55 209.97 634.24 208.17 635.92 205.6 637.6 205.6 637.6 203.03 635.92 201.23 634.24 200.73 632.55 200.25 630.87 199.81 629.19 199.42 627.51 199.11 625.83 198.88 624.14 198.74 622.46 198.7 620.78 198.74 619.1 198.82 617.42 198.96 615.73 199.15 614.05 199.39 612.37 199.66 610.69 199.97 609.01 200.3 607.32 200.65 605.64 201.02 603.96 201.39 602.28 201.76 600.59 202.13 598.91 202.49 597.23 202.83 595.55 203.15 593.87 203.46 592.18 203.74 590.5 203.99 588.82 204.23 587.14 204.43 585.46 204.62 583.77 204.78 582.09 204.92 580.41 205.04 578.73 205.15 577.05 205.23 575.36 205.4 573.68 205.6 572Z" fill="#00ffff" stroke="#000" stroke-width="0.55"/>
<path d="M205.6 483.1V637.6" stroke="#000" stroke-width="0.7"/>
<rect x="204.85" y="610.92" width="1.5" height="15.69" fill="#000"/>
<circle cx="205.6" cy="621.9" r="1.5" fill="#fff"/>
<path d="M235.9 467.3 236.52 469.48 236.89 471.66 237.14 473.85 237.43 476.03 237.76 478.21 238.13 480.39 238.54 482.57 238.99 484.76 239.46 486.94 239.94 489.12 240.42 491.3 240.9 493.48 241.35 495.67 241.75 497.85 242.1 500.03 242.38 502.21 242.57 504.39 242.68 506.58 242.7 508.76 242.63 510.94 242.48 513.12 242.27 515.31 241.99 517.49 241.65 519.67 241.27 521.85 240.86 524.03 240.42 526.22 239.98 528.4 239.54 530.58 239.1 532.76 238.69 534.94 238.3 537.13 237.94 539.31 237.62 541.49 237.33 543.67 237.07 545.85 236.85 548.04 236.51 550.22 235.9 552.4 235.9 552.4 235.29 550.22 234.95 548.04 234.73 545.85 234.47 543.67 234.18 541.49 233.86 539.31 233.5 537.13 233.11 534.94 232.7 532.76 232.26 530.58 231.82 528.4 231.38 526.22 230.94 524.03 230.53 521.85 230.15 519.67 229.81 517.49 229.53 515.31 229.32 513.12 229.17 510.94 229.1 508.76 229.12 506.58 229.23 504.39 229.42 502.21 229.7 500.03 230.05 497.85 230.45 495.67 230.9 493.48 231.38 491.3 231.86 489.12 232.34 486.94 232.81 484.76 233.26 482.57 233.67 480.39 234.04 478.21 234.37 476.03 234.66 473.85 234.91 471.66 235.28 469.48 235.9 467.3Z" fill="#ff0000" stroke="#000" stroke-width="0.55"/>
<path d="M235.9 467.3V552.4" stroke="#000" stroke-width="0.7"/>
<rect x="235.15" y="499.44" width="1.5" height="22.23" fill="#000"/>
<circle cx="235.9" cy="508.5" r="1.5" fill="#fff"/>
<path d="M250.8 515 251.44 517.18 251.83 519.36 252.11 521.54 252.44 523.72 252.82 525.9 253.24 528.08 253.71 530.26 254.21 532.44 254.73 534.62 255.26 536.79 255.78 538.97 256.26 541.15 256.7 543.33 257.06 545.51 257.34 547.69 257.53 549.87 257.6 552.05 257.58 554.23 257.48 556.41 257.33 558.59 257.11 560.77 256.84 562.95 256.52 565.13 256.16 567.31 255.78 569.49 255.37 571.67 254.96 573.85 254.55 576.03 254.14 578.21 253.75 580.38 253.37 582.56 253.02 584.74 252.7 586.92 252.41 589.1 252.15 591.28 251.92 593.46 251.72 595.64 251.4 597.82 250.8 600 250.8 600 250.2 597.82 249.88 595.64 249.68 593.46 249.45 591.28 249.19 589.1 248.9 586.92 248.58 584.74 248.23 582.56 247.85 580.38 247.46 578.21 247.05 576.03 246.64 573.85 246.23 571.67 245.82 569.49 245.44 567.31 245.08 565.13 244.76 562.95 244.49 560.77 244.27 558.59 244.12 556.41 244.02 554.23 244 552.05 244.07 549.87 244.26 547.69 244.54 545.51 244.9 543.33 245.34 541.15 245.82 538.97 246.34 536.79 246.87 534.62 247.39 532.44 247.89 530.26 248.36 528.08 248.78 525.9 249.16 523.72 249.49 521.54 249.77 519.36 250.16 517.18 250.8 515Z" fill="#00ffff" stroke="#000" stroke-width="0.55"/>
<path d="M250.8 515V600" stroke="#000" stroke-width="0.7"/>
<rect x="250.05" y="544.64" width="1.5" height="22.46" fill="#000"/>
<circle cx="250.8" cy="553" r="1.5" fill="#fff"/>
<path d="M280.8 560 281.22 561.46 281.64 562.92 281.85 564.38 282.07 565.85 282.32 567.31 282.6 568.77 282.91 570.23 283.25 571.69 283.61 573.15 283.99 574.62 284.38 576.08 284.77 577.54 285.16 579 285.54 580.46 285.89 581.92 286.2 583.38 286.48 584.85 286.7 586.31 286.86 587.77 286.97 589.23 287 590.69 286.95 592.15 286.82 593.62 286.6 595.08 286.3 596.54 285.95 598 285.54 599.46 285.1 600.92 284.65 602.38 284.19 603.85 283.74 605.31 283.31 606.77 282.92 608.23 282.56 609.69 282.23 611.15 281.96 612.62 281.7 614.08 281.23 615.54 280.8 617 280.8 617 280.37 615.54 279.9 614.08 279.64 612.62 279.37 611.15 279.04 609.69 278.68 608.23 278.29 606.77 277.86 605.31 277.41 603.85 276.95 602.38 276.5 600.92 276.06 599.46 275.65 598 275.3 596.54 275 595.08 274.78 593.62 274.65 592.15 274.6 590.69 274.63 589.23 274.74 587.77 274.9 586.31 275.12 584.85 275.4 583.38 275.71 581.92 276.06 580.46 276.44 579 276.83 577.54 277.22 576.08 277.61 574.62 277.99 573.15 278.35 571.69 278.69 570.23 279 568.77 279.28 567.31 279.53 565.85 279.75 564.38 279.96 562.92 280.38 561.46 280.8 560Z" fill="#ff0000" stroke="#000" stroke-width="0.55"/>
<path d="M280.8 557.5V617" stroke="#000" stroke-width="0.7"/>
<rect x="280.05" y="583.71" width="1.5" height="14.67" fill="#000"/>
<circle cx="280.8" cy="590.4" r="1.5" fill="#fff"/>
<path d="M295.9 584.3 296.26 585.51 296.65 586.72 297 587.92 297.25 589.13 297.55 590.34 297.88 591.55 298.25 592.75 298.64 593.96 299.06 595.17 299.49 596.38 299.92 597.58 300.34 598.79 300.73 600 301.09 601.21 301.39 602.42 301.63 603.62 301.8 604.83 301.89 606.04 301.89 607.25 301.83 608.45 301.69 609.66 301.5 610.87 301.25 612.08 300.95 613.28 300.62 614.49 300.25 615.7 299.87 616.91 299.48 618.12 299.09 619.32 298.71 620.53 298.35 621.74 298.01 622.95 297.69 624.15 297.41 625.36 297.15 626.57 296.93 627.78 296.62 628.98 296.26 630.19 295.9 631.4 295.9 631.4 295.54 630.19 295.18 628.98 294.87 627.78 294.65 626.57 294.39 625.36 294.11 624.15 293.79 622.95 293.45 621.74 293.09 620.53 292.71 619.32 292.32 618.12 291.93 616.91 291.55 615.7 291.18 614.49 290.85 613.28 290.55 612.08 290.3 610.87 290.11 609.66 289.97 608.45 289.91 607.25 289.91 606.04 290 604.83 290.17 603.62 290.41 602.42 290.71 601.21 291.07 600 291.46 598.79 291.88 597.58 292.31 596.38 292.74 595.17 293.16 593.96 293.55 592.75 293.92 591.55 294.25 590.34 294.55 589.13 294.8 587.92 295.15 586.72 295.54 585.51 295.9 584.3Z" fill="#00ffff" stroke="#000" stroke-width="0.55"/>
<path d="M295.9 584.3V631.4" stroke="#000" stroke-width="0.7"/>
<rect x="295.15" y="602.63" width="1.5" height="12.25" fill="#000"/>
<circle cx="295.9" cy="607.8" r="1.5" fill="#fff"/>
<path d="M58.2 482.2H67.8" stroke="#111" stroke-width="0.8"/>
<text x="62.8" y="465.5" font-size="7.7" text-anchor="middle" fill="#111">p&lt;0.001</text>
<text x="62.2" y="662.7" font-size="7.6" text-anchor="middle" fill="#111">EMP1</text>
<path d="M103.3 481.3H112.9" stroke="#111" stroke-width="0.8"/>
<text x="107.9" y="465.8" font-size="7.7" text-anchor="middle" fill="#111">p&lt;0.001</text>
<text x="107.3" y="662.7" font-size="7.6" text-anchor="middle" fill="#111">TPM1</text>
<path d="M148.4 537H158" stroke="#111" stroke-width="0.8"/>
<text x="153" y="524.6" font-size="7.7" text-anchor="middle" fill="#111">p&lt;0.001</text>
<text x="152.4" y="662.7" font-size="7.6" text-anchor="middle" fill="#111">NRP2</text>
<path d="M193.5 483.4H203.1" stroke="#111" stroke-width="0.8"/>
<text x="198.1" y="470" font-size="7.7" text-anchor="middle" fill="#111">p&lt;0.001</text>
<text x="197.5" y="662.7" font-size="7.6" text-anchor="middle" fill="#111">FGFR1</text>
<path d="M238.6 467.6H248.2" stroke="#111" stroke-width="0.8"/>
<text x="243.2" y="456.4" font-size="7.7" text-anchor="middle" fill="#111">p&lt;0.001</text>
<text x="242.6" y="662.7" font-size="7.6" text-anchor="middle" fill="#111">CAVIN1</text>
<path d="M283.7 557.5H293.3" stroke="#111" stroke-width="0.8"/>
<text x="288.3" y="547.6" font-size="7.7" text-anchor="middle" fill="#111">p&lt;0.001</text>
<text x="287.7" y="662.7" font-size="7.6" text-anchor="middle" fill="#111">LATS2</text>
<rect x="376.7" y="424.4" width="307.5" height="221.5" fill="none" stroke="#111" stroke-width="1.2"/>
<path d="M371.6 637.9H376.7" stroke="#333" stroke-width="0.9"/>
<text x="364.3" y="637.9" font-size="8.5" text-anchor="middle" fill="#222" transform="rotate(-90 364.3 637.9)">0.0</text>
<path d="M371.6 596.78H376.7" stroke="#333" stroke-width="0.9"/>
<text x="364.3" y="596.78" font-size="8.5" text-anchor="middle" fill="#222" transform="rotate(-90 364.3 596.78)">0.2</text>
<path d="M371.6 555.66H376.7" stroke="#333" stroke-width="0.9"/>
<text x="364.3" y="555.66" font-size="8.5" text-anchor="middle" fill="#222" transform="rotate(-90 364.3 555.66)">0.4</text>
<path d="M371.6 514.54H376.7" stroke="#333" stroke-width="0.9"/>
<text x="364.3" y="514.54" font-size="8.5" text-anchor="middle" fill="#222" transform="rotate(-90 364.3 514.54)">0.6</text>
<path d="M371.6 473.42H376.7" stroke="#333" stroke-width="0.9"/>
<text x="364.3" y="473.42" font-size="8.5" text-anchor="middle" fill="#222" transform="rotate(-90 364.3 473.42)">0.8</text>
<path d="M371.6 432.3H376.7" stroke="#333" stroke-width="0.9"/>
<text x="364.3" y="432.3" font-size="8.5" text-anchor="middle" fill="#222" transform="rotate(-90 364.3 432.3)">1.0</text>
<path d="M388 645.9V651.8" stroke="#333" stroke-width="0.9"/>
<text x="388" y="665.9" font-size="8.5" text-anchor="middle" fill="#222">0</text>
<path d="M429.18 645.9V651.8" stroke="#333" stroke-width="0.9"/>
<text x="429.18" y="665.9" font-size="8.5" text-anchor="middle" fill="#222">2</text>
<path d="M470.36 645.9V651.8" stroke="#333" stroke-width="0.9"/>
<text x="470.36" y="665.9" font-size="8.5" text-anchor="middle" fill="#222">4</text>
<path d="M511.54 645.9V651.8" stroke="#333" stroke-width="0.9"/>
<text x="511.54" y="665.9" font-size="8.5" text-anchor="middle" fill="#222">6</text>
<path d="M552.72 645.9V651.8" stroke="#333" stroke-width="0.9"/>
<text x="552.72" y="665.9" font-size="8.5" text-anchor="middle" fill="#222">8</text>
<path d="M593.9 645.9V651.8" stroke="#333" stroke-width="0.9"/>
<text x="593.9" y="665.9" font-size="8.5" text-anchor="middle" fill="#222">10</text>
<path d="M635.08 645.9V651.8" stroke="#333" stroke-width="0.9"/>
<text x="635.08" y="665.9" font-size="8.5" text-anchor="middle" fill="#222">12</text>
<path d="M676.26 645.9V651.8" stroke="#333" stroke-width="0.9"/>
<text x="676.26" y="665.9" font-size="8.5" text-anchor="middle" fill="#222">14</text>
<text x="530.8" y="687.2" font-size="8.7" text-anchor="middle" fill="#111">Time (year)</text>
<text x="343.8" y="535.2" font-size="8.7" text-anchor="middle" fill="#111" transform="rotate(-90 343.8 535.2)">Survival rate</text>
<text x="529.8" y="406.2" font-size="10.35" text-anchor="middle" font-weight="bold" fill="#111">Survival curve (p=8.356e−04)</text>
<path d="M388 432.3L389.95 432.3L389.95 434.2L391.9 434.2L391.9 436.1L393.85 436.1L393.85 438L395.8 438L395.8 439.9L397.53 439.9L397.53 442.53L399.27 442.53L399.27 445.17L401 445.17L401 447.8L402.98 447.8L402.98 449.98L404.95 449.98L404.95 452.15L406.92 452.15L406.92 454.32L408.9 454.32L408.9 456.5L410.88 456.5L410.88 458.93L412.85 458.93L412.85 461.35L414.82 461.35L414.82 463.77L416.8 463.77L416.8 466.2L418.5 466.2L418.5 474L419.5 480L422 480L422 485.8L424.3 485.8L424.3 490.5L432.5 491.7L432.5 494L440 494L440 496L441.9 496L441.9 498.1L446.5 498.1L446.5 501L450 501L450 502.2L452.4 502.2L452.4 505.7L464 505.7L464 511L498.4 511L498.4 519.3L537 519.3L537 539L554.8 539L554.8 563.8L615.3 563.8" fill="none" stroke="#00ffff" stroke-width="1.75"/>
<path d="M388 432.3L390.13 432.3L390.13 435.4L392.27 435.4L392.27 438.5L394.4 438.5L394.4 441.6L397.5 441.6L397.5 450.4L399.7 450.4L399.7 457.4L401.9 457.4L401.9 464.4L404.1 464.4L404.1 469.65L406.3 469.65L406.3 474.9L408.9 474.9L408.9 484.5L410.5 484.5L410.5 490L413.6 490L413.6 500.9L415.53 500.9L415.53 504.8L417.47 504.8L417.47 508.7L419.4 508.7L419.4 512.6L421 512.6L421 519.8L423.8 519.8L423.8 524.3L430 524.3L430 529.7L434.7 529.7L434.7 532.6L436 532.6L436 536.7L438.5 536.7L438.5 540.2L447.5 540.2L447.5 543.7L448 543.7L448 545.1L459.2 545.1L459.2 547.2L464.5 547.2L464.5 550.1L468 550.1L468 553L476.5 553L476.5 557L484.3 557L484.3 559.5L485 559.5L485 562.4L493.1 562.4L493.1 565.9L501.8 565.9L501.8 570.2L546.9 570.2L546.9 576.3L675.9 576.3" fill="none" stroke="#ff0000" stroke-width="1.75"/>
<path d="M386 433.57H392M389 430.57V436.57M387.03 433.65H393.03M390.03 430.65V436.65M388.15 434.82H394.15M391.15 431.82V437.82M389.96 438.41H395.96M392.96 435.41V441.41M390.71 437.72H396.71M393.71 434.72V440.72M392.99 439.96H398.99M395.99 436.96V442.96M393.91 440.49H399.91M396.91 437.49V443.49M395.07 444.09H401.07M398.07 441.09V447.09M395.06 444.91H401.06M398.06 441.91V447.91M395.8 446.05H401.8M398.8 443.05V449.05M397.16 448.67H403.16M400.16 445.67V451.67M399.03 450.6H405.03M402.03 447.6V453.6M401.76 451.58H407.76M404.76 448.58V454.58M400.38 452.66H406.38M403.38 449.66V455.66M404.15 454.74H410.15M407.15 451.74V457.74M403.97 455.58H409.97M406.97 452.58V458.58M405.82 456.8H411.82M408.82 453.8V459.8M409.16 458.39H415.16M412.16 455.39V461.39M409.37 461.68H415.37M412.37 458.68V464.68M410.12 462.28H416.12M413.12 459.28V465.28M412.11 464.05H418.11M415.11 461.05V467.05M412.07 465.66H418.07M415.07 462.66V468.66M415.96 468.32H421.96M418.96 465.32V471.32M416.76 476.52H422.76M419.76 473.52V479.52M416.56 483.62H422.56M419.56 480.62V486.62M420 487.84H426M423 484.84V490.84M422 490.6H428M425 487.6V493.6M430.7 494H436.7M433.7 491V497M432.5 494H438.5M435.5 491V497M434 494H440M437 491V497M435.4 494H441.4M438.4 491V497M443 498.1H449M446 495.1V501.1M447 501H453M450 498V504M459.9 505.7H465.9M462.9 502.7V508.7M461.2 511H467.2M464.2 508V514M466.9 511H472.9M469.9 508V514M469.2 511H475.2M472.2 508V514M471.6 511H477.6M474.6 508V514M473.9 511H479.9M476.9 508V514M475.6 511H481.6M478.6 508V514M495.1 511H501.1M498.1 508V514M498.9 519.3H504.9M501.9 516.3V522.3M507.7 519.3H513.7M510.7 516.3V522.3M515.9 519.3H521.9M518.9 516.3V522.3M517 519.3H523M520 516.3V522.3M542.2 539H548.2M545.2 536V542M562.4 563.8H568.4M565.4 560.8V566.8M578 563.8H584M581 560.8V566.8M609.6 563.8H615.6M612.6 560.8V566.8" stroke="#00ffff" stroke-width="1.15"/>
<path d="M387 435.21H393M390 432.21V438.21M388.6 437.53H394.6M391.6 434.53V440.53M390.2 439.86H396.2M393.2 436.86V442.86M391.8 442.74H397.8M394.8 439.74V445.74M393.4 447.28H399.4M396.4 444.28V450.28M395 451.99H401M398 448.99V454.99M396.6 457.08H402.6M399.6 454.08V460.08M398.2 462.17H404.2M401.2 459.17V465.17M399.8 466.55H405.8M402.8 463.55V469.55M401.4 470.37H407.4M404.4 467.37V473.37M403 474.18H409M406 471.18V477.18M404.6 479.7H410.6M407.6 476.7V482.7M406.2 485.53H412.2M409.2 482.53V488.53M407.8 491.05H413.8M410.8 488.05V494.05M409.4 496.68H415.4M412.4 493.68V499.68M411 501.71H417M414 498.71V504.71M412.6 504.93H418.6M415.6 501.93V507.93M414.2 508.16H420.2M417.2 505.16V511.16M415.8 511.39H421.8M418.8 508.39V514.39M417.4 517.1H423.4M420.4 514.1V520.1M419 521.41H425M422 518.41V524.41M420.6 523.98H426.6M423.6 520.98V526.98M424 524.3H430M427 521.3V527.3M429 529.7H435M432 526.7V532.7M433 532.6H439M436 529.6V535.6M438.7 540.2H444.7M441.7 537.2V543.2M441 540.2H447M444 537.2V543.2M444.5 540.2H450.5M447.5 537.2V543.2M445.3 545.1H451.3M448.3 542.1V548.1M456.2 545.1H462.2M459.2 542.1V548.1M473.7 557H479.7M476.7 554V560M474.9 557H480.9M477.9 554V560M479.6 557H485.6M482.6 554V560M487.7 562.4H493.7M490.7 559.4V565.4M492.4 565.9H498.4M495.4 562.9V568.9M503.6 570.2H509.6M506.6 567.2V573.2M514.2 570.2H520.2M517.2 567.2V573.2M519.4 570.2H525.4M522.4 567.2V573.2M522 570.2H528M525 567.2V573.2M533.4 570.2H539.4M536.4 567.2V573.2M542.7 570.2H548.7M545.7 567.2V573.2M546.6 576.3H552.6M549.6 573.3V579.3M552.2 576.3H558.2M555.2 573.3V579.3M554.4 576.3H560.4M557.4 573.3V579.3M574.6 576.3H580.6M577.6 573.3V579.3M578.1 576.3H584.1M581.1 573.3V579.3M600.8 576.3H606.8M603.8 573.3V579.3M626.3 576.3H632.3M629.3 573.3V579.3M669.6 576.3H675.6M672.6 573.3V579.3" stroke="#ff0000" stroke-width="1.15"/>
<rect x="617.4" y="424.6" width="66.7" height="31.7" fill="#fff" stroke="#111" stroke-width="1"/>
<path d="M624.2 434.9H641.8" stroke="#ff0000" stroke-width="1.9"/>
<path d="M624.2 445.4H641.8" stroke="#00ffff" stroke-width="1.9"/>
<text x="648.9" y="438" font-size="8.5" fill="#111">cluster1</text>
<text x="648.9" y="448.5" font-size="8.5" fill="#111">cluster2</text>
</svg></div></body></html>
